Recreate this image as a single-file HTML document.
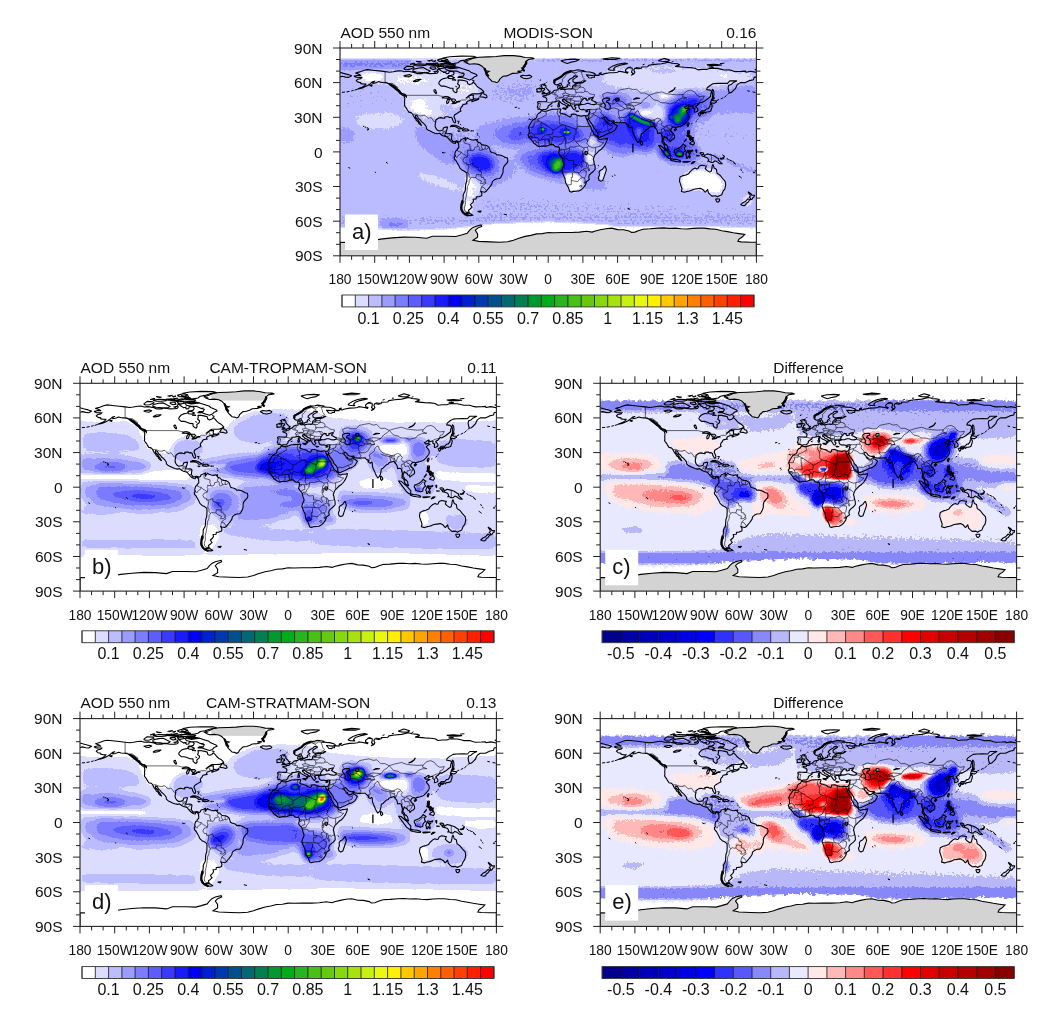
<!DOCTYPE html>
<html><head><meta charset="utf-8"><title>AOD 550 nm SON comparison</title>
<style>html,body{margin:0;padding:0;background:#fff}svg{display:block;font-family:"Liberation Sans",Arial,Helvetica,sans-serif;fill:#111}</style>
</head><body>
<svg width="1053" height="1013" viewBox="0 0 1053 1013">
<defs><clipPath id="clip"><rect x="0" y="0" width="416.4" height="207.8"/></clipPath><filter id="cmA" filterUnits="userSpaceOnUse" x="0" y="0" width="416.4" height="207.8" color-interpolation-filters="sRGB"><feTurbulence type="fractalNoise" baseFrequency="0.4" numOctaves="2" seed="3" result="n"/><feColorMatrix in="n" type="matrix" values="0.03 0 0 0 0.485  0.03 0 0 0 0.485  0.03 0 0 0 0.485  0 0 0 0 1" result="n2"/><feComposite in="SourceGraphic" in2="n2" operator="arithmetic" k1="0" k2="1" k3="1" k4="-0.5" result="m"/><feComponentTransfer in="m"><feFuncR type="discrete" tableValues="1.000 0.863 0.737 0.612 0.486 0.361 0.227 0.102 0.000 0.000 0.000 0.000 0.000 0.000 0.000 0.000 0.157 0.282 0.408 0.533 0.659 0.784 0.910 1.000 1.000 1.000 1.000 1.000 1.000 1.000 1.000"/><feFuncG type="discrete" tableValues="1.000 0.863 0.737 0.612 0.486 0.361 0.227 0.102 0.000 0.125 0.220 0.314 0.408 0.502 0.596 0.675 0.706 0.753 0.784 0.847 0.878 0.941 0.973 0.941 0.784 0.643 0.502 0.376 0.251 0.125 0.000"/><feFuncB type="discrete" tableValues="1.000 1.000 1.000 1.000 1.000 1.000 1.000 1.000 0.957 0.816 0.690 0.565 0.439 0.314 0.188 0.094 0.110 0.094 0.063 0.063 0.063 0.063 0.063 0.000 0.000 0.000 0.000 0.000 0.000 0.000 0.000"/><feFuncA type="linear" slope="0" intercept="1"/></feComponentTransfer></filter><filter id="cmB" filterUnits="userSpaceOnUse" x="0" y="0" width="416.4" height="207.8" color-interpolation-filters="sRGB"><feComponentTransfer in="SourceGraphic"><feFuncR type="discrete" tableValues="1.000 0.863 0.737 0.612 0.486 0.361 0.227 0.102 0.000 0.000 0.000 0.000 0.000 0.000 0.000 0.000 0.157 0.282 0.408 0.533 0.659 0.784 0.910 1.000 1.000 1.000 1.000 1.000 1.000 1.000 1.000"/><feFuncG type="discrete" tableValues="1.000 0.863 0.737 0.612 0.486 0.361 0.227 0.102 0.000 0.125 0.220 0.314 0.408 0.502 0.596 0.675 0.706 0.753 0.784 0.847 0.878 0.941 0.973 0.941 0.784 0.643 0.502 0.376 0.251 0.125 0.000"/><feFuncB type="discrete" tableValues="1.000 1.000 1.000 1.000 1.000 1.000 1.000 1.000 0.957 0.816 0.690 0.565 0.439 0.314 0.188 0.094 0.110 0.094 0.063 0.063 0.063 0.063 0.063 0.000 0.000 0.000 0.000 0.000 0.000 0.000 0.000"/><feFuncA type="linear" slope="0" intercept="1"/></feComponentTransfer></filter><filter id="cmC" filterUnits="userSpaceOnUse" x="0" y="0" width="416.4" height="207.8" color-interpolation-filters="sRGB"><feTurbulence type="fractalNoise" baseFrequency="0.4" numOctaves="2" seed="7" result="n"/><feColorMatrix in="n" type="matrix" values="0.05 0 0 0 0.475  0.05 0 0 0 0.475  0.05 0 0 0 0.475  0 0 0 0 1" result="n2"/><feComposite in="SourceGraphic" in2="n2" operator="arithmetic" k1="0" k2="1" k3="1" k4="-0.5" result="m"/><feComponentTransfer in="m"><feFuncR type="discrete" tableValues="0.000 0.000 0.000 0.000 0.000 0.000 0.188 0.345 0.533 0.722 0.910 1.000 1.000 1.000 1.000 1.000 1.000 0.878 0.784 0.706 0.627 0.533"/><feFuncG type="discrete" tableValues="0.000 0.000 0.000 0.000 0.000 0.000 0.188 0.345 0.533 0.722 0.910 0.910 0.722 0.533 0.345 0.188 0.000 0.000 0.000 0.000 0.000 0.000"/><feFuncB type="discrete" tableValues="0.549 0.643 0.722 0.800 0.894 1.000 1.000 0.980 0.973 0.973 1.000 0.910 0.722 0.533 0.345 0.188 0.000 0.000 0.000 0.000 0.000 0.000"/><feFuncA type="linear" slope="0" intercept="1"/></feComponentTransfer></filter><filter id="cmD" filterUnits="userSpaceOnUse" x="0" y="0" width="416.4" height="207.8" color-interpolation-filters="sRGB"><feComponentTransfer in="SourceGraphic"><feFuncR type="discrete" tableValues="1.000 0.863 0.737 0.612 0.486 0.361 0.227 0.102 0.000 0.000 0.000 0.000 0.000 0.000 0.000 0.000 0.157 0.282 0.408 0.533 0.659 0.784 0.910 1.000 1.000 1.000 1.000 1.000 1.000 1.000 1.000"/><feFuncG type="discrete" tableValues="1.000 0.863 0.737 0.612 0.486 0.361 0.227 0.102 0.000 0.125 0.220 0.314 0.408 0.502 0.596 0.675 0.706 0.753 0.784 0.847 0.878 0.941 0.973 0.941 0.784 0.643 0.502 0.376 0.251 0.125 0.000"/><feFuncB type="discrete" tableValues="1.000 1.000 1.000 1.000 1.000 1.000 1.000 1.000 0.957 0.816 0.690 0.565 0.439 0.314 0.188 0.094 0.110 0.094 0.063 0.063 0.063 0.063 0.063 0.000 0.000 0.000 0.000 0.000 0.000 0.000 0.000"/><feFuncA type="linear" slope="0" intercept="1"/></feComponentTransfer></filter><filter id="cmE" filterUnits="userSpaceOnUse" x="0" y="0" width="416.4" height="207.8" color-interpolation-filters="sRGB"><feTurbulence type="fractalNoise" baseFrequency="0.4" numOctaves="2" seed="11" result="n"/><feColorMatrix in="n" type="matrix" values="0.05 0 0 0 0.475  0.05 0 0 0 0.475  0.05 0 0 0 0.475  0 0 0 0 1" result="n2"/><feComposite in="SourceGraphic" in2="n2" operator="arithmetic" k1="0" k2="1" k3="1" k4="-0.5" result="m"/><feComponentTransfer in="m"><feFuncR type="discrete" tableValues="0.000 0.000 0.000 0.000 0.000 0.000 0.188 0.345 0.533 0.722 0.910 1.000 1.000 1.000 1.000 1.000 1.000 0.878 0.784 0.706 0.627 0.533"/><feFuncG type="discrete" tableValues="0.000 0.000 0.000 0.000 0.000 0.000 0.188 0.345 0.533 0.722 0.910 0.910 0.722 0.533 0.345 0.188 0.000 0.000 0.000 0.000 0.000 0.000"/><feFuncB type="discrete" tableValues="0.549 0.643 0.722 0.800 0.894 1.000 1.000 0.980 0.973 0.973 1.000 0.910 0.722 0.533 0.345 0.188 0.000 0.000 0.000 0.000 0.000 0.000"/><feFuncA type="linear" slope="0" intercept="1"/></feComponentTransfer></filter><filter id="b0_5" filterUnits="userSpaceOnUse" x="-150" y="-150" width="716.4" height="507.8" color-interpolation-filters="sRGB"><feGaussianBlur stdDeviation="0.5"/></filter><filter id="b0_7" filterUnits="userSpaceOnUse" x="-150" y="-150" width="716.4" height="507.8" color-interpolation-filters="sRGB"><feGaussianBlur stdDeviation="0.7"/></filter><filter id="b0_8" filterUnits="userSpaceOnUse" x="-150" y="-150" width="716.4" height="507.8" color-interpolation-filters="sRGB"><feGaussianBlur stdDeviation="0.8"/></filter><filter id="b0_9" filterUnits="userSpaceOnUse" x="-150" y="-150" width="716.4" height="507.8" color-interpolation-filters="sRGB"><feGaussianBlur stdDeviation="0.9"/></filter><filter id="b1_0" filterUnits="userSpaceOnUse" x="-150" y="-150" width="716.4" height="507.8" color-interpolation-filters="sRGB"><feGaussianBlur stdDeviation="1"/></filter><filter id="b1_2" filterUnits="userSpaceOnUse" x="-150" y="-150" width="716.4" height="507.8" color-interpolation-filters="sRGB"><feGaussianBlur stdDeviation="1.2"/></filter><filter id="b1_3" filterUnits="userSpaceOnUse" x="-150" y="-150" width="716.4" height="507.8" color-interpolation-filters="sRGB"><feGaussianBlur stdDeviation="1.3"/></filter><filter id="b1_4" filterUnits="userSpaceOnUse" x="-150" y="-150" width="716.4" height="507.8" color-interpolation-filters="sRGB"><feGaussianBlur stdDeviation="1.4"/></filter><filter id="b1_5" filterUnits="userSpaceOnUse" x="-150" y="-150" width="716.4" height="507.8" color-interpolation-filters="sRGB"><feGaussianBlur stdDeviation="1.5"/></filter><filter id="b1_6" filterUnits="userSpaceOnUse" x="-150" y="-150" width="716.4" height="507.8" color-interpolation-filters="sRGB"><feGaussianBlur stdDeviation="1.6"/></filter><filter id="b1_8" filterUnits="userSpaceOnUse" x="-150" y="-150" width="716.4" height="507.8" color-interpolation-filters="sRGB"><feGaussianBlur stdDeviation="1.8"/></filter><filter id="b2_0" filterUnits="userSpaceOnUse" x="-150" y="-150" width="716.4" height="507.8" color-interpolation-filters="sRGB"><feGaussianBlur stdDeviation="2"/></filter><filter id="b2_2" filterUnits="userSpaceOnUse" x="-150" y="-150" width="716.4" height="507.8" color-interpolation-filters="sRGB"><feGaussianBlur stdDeviation="2.2"/></filter><filter id="b2_3" filterUnits="userSpaceOnUse" x="-150" y="-150" width="716.4" height="507.8" color-interpolation-filters="sRGB"><feGaussianBlur stdDeviation="2.3"/></filter><filter id="b2_5" filterUnits="userSpaceOnUse" x="-150" y="-150" width="716.4" height="507.8" color-interpolation-filters="sRGB"><feGaussianBlur stdDeviation="2.5"/></filter><filter id="b2_8" filterUnits="userSpaceOnUse" x="-150" y="-150" width="716.4" height="507.8" color-interpolation-filters="sRGB"><feGaussianBlur stdDeviation="2.8"/></filter><filter id="b3_0" filterUnits="userSpaceOnUse" x="-150" y="-150" width="716.4" height="507.8" color-interpolation-filters="sRGB"><feGaussianBlur stdDeviation="3"/></filter><filter id="b3_5" filterUnits="userSpaceOnUse" x="-150" y="-150" width="716.4" height="507.8" color-interpolation-filters="sRGB"><feGaussianBlur stdDeviation="3.5"/></filter><filter id="b4_0" filterUnits="userSpaceOnUse" x="-150" y="-150" width="716.4" height="507.8" color-interpolation-filters="sRGB"><feGaussianBlur stdDeviation="4"/></filter><filter id="rough" filterUnits="userSpaceOnUse" x="-20" y="-20" width="456.4" height="247.8"><feTurbulence type="fractalNoise" baseFrequency="0.25" numOctaves="2" seed="5" result="t"/><feDisplacementMap in="SourceGraphic" in2="t" scale="7" xChannelSelector="R" yChannelSelector="G"/></filter><path id="coast" d="M13.9 28.2 18.5 27.1 20.8 27.5 19.1 26.3 15.6 25.1 19.7 23.9 24.3 22.2 27.2 21.6 32.4 22.2 39.3 22.9 45.1 23.6 49.7 24.2 53.2 23.7 57.8 22.9 61.3 22.7 64.2 23.7 68.2 23.3 74 24.4 76.9 25.6 82.1 25.6 83.3 24.8 86.7 25.2 90.2 25.6 94.8 25.5 97.2 25.1 98.3 23.7 97.2 21.9 98.9 20.8 100.6 22.5 102.9 23.9 105.3 24.2 106.4 25.6 108.7 25.4 109.3 23.4 112.8 23.4 114.2 24.8 113.4 26.8 111 27.4 108.7 27.5 108.7 29.4 106.4 30 103.5 30.6 101.2 31.7 99.5 33.5 98.7 35.2 99.1 36.1 101.2 38.1 104.1 38.1 106.4 38.7 109.9 40.1 113 40.3 113.1 42.7 114.5 44.1 116 44.8 117.1 43.6 116.8 41.3 119.1 39.5 119.6 37.5 117.6 36 118.3 34.1 118 32 121.4 32.1 124.9 32.8 127.2 33.5 127.8 35.8 129.5 36.6 131.9 35.8 133.2 34.2 135.3 36 136.7 37.9 138.8 39.8 141.1 41 142.3 42.1 143.7 43.5 142.3 44.6 139.4 45.8 136.5 45.9 131.9 45.9 129.5 47.3 127.2 49.1 126.1 49.9 128.4 48.5 130.7 47.3 133.6 47.3 133.2 48.7 133.4 50.6 135.9 51.1 137.6 50.9 138.8 49.8 138.8 51 136.5 52.2 133.8 52.9 131.9 53.7 131.9 52.5 133.6 51.4 130.7 52 129 52.8 127.2 53.5 126.4 55.1 127.2 55.8 125.7 56 123.2 56.6 122.6 57.1 122.3 58.3 121.2 59.2 120.3 61.2 120.5 62.3 120.9 63.1 119.5 63.8 118 64.8 116.5 65.7 114.5 67 114 68.7 115 71.2 115.7 73 115.3 74.7 114.3 74.8 113.6 73.7 112.5 71.8 112.4 70.4 111 69.3 109.5 69.6 108.1 68.8 106.4 68.8 104.7 69 104.9 70.3 102.9 70.1 100.6 69.6 98.7 70 97.2 71 95.7 72.2 95.8 73.9 95.2 76.2 95.1 78.2 95.7 79.9 96.9 81.7 98.7 82.9 101.2 82.5 102.9 82 103.6 79.7 105.8 79.1 107.6 79.1 107 81 106.6 82.8 106.1 84.3 105.5 85.5 107.6 85.7 109.3 85.5 111 85.7 112 86.6 111.6 88.9 111.4 91.2 112.2 92.4 113.4 93.5 115.1 93.5 116.2 92.9 118 93.3 118.8 94.1 M118.6 95.5 117.6 94.4 116.2 93.7 115.3 94.4 115.4 95.4 113.9 95.2 112.4 94.4 111.4 93.7 109.9 92.4 109 91.2 107 88.9 105.3 88.4 103.5 87.9 101.6 87 99.5 85.3 97.2 85.8 94.8 85.2 92.5 84.3 90.2 83.1 88.3 82.3 86.4 80.6 86.3 78.7 85 76.9 83.3 75 81.7 73.9 80.4 72 78.4 70.4 77.5 68.1 75.5 67.3 75.5 69 77.1 70.8 78.4 72.5 79.6 74.2 80.7 76 81.5 77.3 80.6 76.9 78.7 75.3 78.2 73.7 76.3 72.5 75.8 71 74.4 69.5 73.4 67.8 72.6 66.1 71.1 64.6 68.8 64.1 67.3 61.8 66.5 60.3 65 58.3 64.4 57.3 64.7 55.4 64.5 53.7 64.8 50.6 64 48 65.9 48.3 66.5 49.3 66.3 47.6 64.8 46.2 62.5 45.6 60.5 44.4 59.8 42.7 57.5 41 56.1 39.3 53.8 37.5 51.5 36.4 49.2 36 46.6 34.9 44 34.6 41.1 34.4 38.7 33.6 36.7 34.4 35.3 34.9 32.7 35.4 33.2 33.8 34.7 33.2 32.6 33.7 31 35.1 29.7 36.2 27.8 37.5 25.4 38.6 23.1 39.7 20.8 40.4 17.9 40.9 19.7 40.1 22 39.3 24.5 37.8 26 36.1 23.1 36 20.8 35.6 20.8 34.6 17.9 34.1 16.2 32.6 17.7 31.2 20.8 30.6 22 29.4 19.7 29.4 16.2 29.3 13.9 28.2 M118.8 94.1 120.3 93.2 121.1 91.5 122.6 91 124.3 90.3 125.5 89.6 125.3 91.2 125.5 92.9 126.1 91.4 127.2 90.6 127.2 89.8 129 90.9 131.3 91.7 133.6 92.1 135.9 91.5 136.7 92.4 137.9 94.1 140 94.7 141.7 96.6 144 97.1 145.7 97.2 147.5 98.1 148.9 99.1 149.8 101.6 150.4 103.6 152.1 104.5 153.3 104.7 155.6 105.6 156.7 107 158.5 106.8 160.8 107.2 163.1 108.2 165.2 109.4 167.4 110 167.9 112.6 167.4 114.5 165.4 116.6 163.7 118.9 163.1 121.2 163.1 124.1 162.2 126.6 160.8 129.3 159.6 130.5 156.7 130.7 154.4 131.8 152.3 133.6 152 135.6 150.9 137.4 149.2 139.7 147.7 141.4 146.3 143.2 144.6 144.2 142.3 143.7 140.7 143.2 141.9 145.5 141.6 147.8 138.8 148.8 136.3 148.9 136.1 150.9 133 151.2 133.6 153 132.7 154.7 130.4 156.7 131.3 158.2 132.1 159.1 130.1 161 128.4 162.2 129.1 164.3 126.7 164.7 124.3 165.7 122.6 164.5 121.1 162.2 120.9 159.3 122 157 123.2 154.7 122.8 152.2 123.2 149.5 123.2 146.8 124.1 144.9 125.3 142.6 125.5 139.1 125.7 136.2 126.7 133.3 126.9 130.5 127 127.6 126.8 125.1 124.9 123.5 122 122.1 119.9 120.1 118.9 117.8 117.6 115.4 116.2 112.9 114.5 111.1 114.2 109.1 115.3 107.8 114.7 106.6 115.1 104.8 115.7 103 116.9 102.3 117.4 101 118.8 99.5 118.7 97.6 118.6 95.5 M128.9 164.7 131.3 166.2 132.8 167.2 130.7 167.6 127.8 167.4 125.5 166.6 126.7 165.7 128.9 164.7 M180.1 28.3 182.8 27.2 186.2 27.7 189.7 27.1 191.8 28.5 190.8 29.7 186.8 30.7 183.3 30.2 182.2 29.4 180.1 28.3 M110 78.6 112.2 77.3 115.1 77.2 118 78.2 120.9 79.9 122.4 80.6 118.6 80.9 118 80 115.7 78.8 113.4 78.3 110 78.6 M122.1 82.5 123.8 80.9 127.2 81 129.1 82.4 126.7 82.9 124.9 83 122.1 82.5 M117.6 82.7 119.9 83 118.9 83.4 117.6 82.7 M130.5 82.7 132.2 82.8 131.3 83.1 130.5 82.7 M139.6 48.8 141.7 45.6 143.7 44.4 144 46.2 146.3 47 147.1 49.1 145.7 49.9 143.4 49.1 139.6 48.8 M59.8 45.3 63 45.9 65.4 47.9 63 47.6 59.8 45.3 M115.7 18.8 120.3 19.9 124.9 21.4 129 22.7 130.7 24.2 136.5 26.6 137.1 27.7 134.2 28.9 132.4 30.8 129.5 32 125.5 30.6 122 29.4 118 29.4 119.1 28.3 123.2 28.3 124.3 26 120.3 24.8 116.8 23.1 111 23.1 106.4 21.9 104.7 19.6 109.9 18.8 115.7 18.8 M72.9 21.4 78.7 20 83.3 19.6 86.7 21.4 90.2 23.1 87.9 24.6 82.1 24.5 76.3 24 72.9 23.1 72.9 21.4 M63.6 20.8 67.1 18.1 72.9 18.5 74 19.6 69.4 21.4 65.4 21.7 63.6 20.8 M104.1 15.6 108.7 13.9 107.6 11.8 102.9 10 109.9 8.7 121.4 8.1 133 8.3 136.5 9.2 129.5 10.6 124.9 12.1 120.3 12.9 118 14.7 113.4 15.6 104.1 15.6 M97.2 16.7 101.8 15.6 109.9 16.5 115.7 16.7 114.5 17.8 106.4 17.9 101.8 17.7 97.2 16.7 M72.9 17 78.7 15.9 85.6 16.2 86.2 17.3 81 17.9 76.3 17.8 72.9 17 M97.7 18.5 103.5 18.5 104.1 19.9 100.1 20.8 97.7 19.6 97.7 18.5 M90.2 19 94.8 18.8 96 20.8 93.1 21.4 90.2 20.2 90.2 19 M107.6 28.3 111 27.9 114.5 29.7 112.2 30.8 108.7 30.4 107.6 28.3 M97.2 12.1 102.9 10.4 107.6 11.5 104.1 13.3 99.5 13.5 97.2 12.1 M201.4 62.6 203.6 63.3 205.9 63.3 208.2 62.6 211.7 61.4 215.1 61.3 217.5 61.2 219.8 60.8 220.9 61.3 220.3 62.9 219.8 64.4 220.9 65.2 223.2 65.9 225.9 66.6 227.9 68.1 230.2 68.9 231.3 68.1 231.3 66.4 234.8 66.1 237.1 67.3 240 67.9 241.7 68.1 244.1 67.5 245.6 67.9 245.8 69.3 246.9 71.8 248.1 74.5 249.3 76.8 251 79.1 251.3 81.4 252.7 83.1 253.9 86 255.6 87.2 257.9 89.2 258.3 90.6 260.2 91.8 262.6 91 264.9 90.9 267.4 90.3 267 92.4 265.5 95.8 263.7 98.7 261.4 101.2 259.1 102.7 256.8 105.1 255 106.8 253.9 109.3 253.3 111.4 253.9 113.1 254.2 115.4 255 117.8 255.2 121.2 253.3 123.5 251 125.3 249.3 127 248.7 129.3 249.3 131.6 246.4 133.7 246.1 135.1 245.2 137.4 243.5 139.7 241.2 141.8 238.9 142.9 236 143.2 233.6 143.4 231.3 144.1 229.6 143.4 229 141.4 228.2 139.1 226.7 136.8 225.5 134.5 225 130.5 223.8 128.1 222.7 125.3 221.8 122.9 222.7 120.1 223.8 117.8 224 116 223.2 114.1 222.3 110.8 221.8 109.1 219.8 107.1 218.6 105.1 219.1 103.3 219.4 101.6 219.3 99.5 218 98.7 216.3 98.9 214.6 98.1 213.4 96.6 211.1 96.6 209.4 97 207 97.9 205.3 98.1 203 97.9 199.5 98.8 197.8 98.1 195.5 96.4 193.7 95.2 192.8 93.5 191.4 91.8 190.3 90.6 188.8 89.5 188.8 88.3 188 86.9 189.1 85.4 189.3 83.1 189.3 81.4 188.5 79.7 189.1 77.9 189.9 76.2 191.1 74.5 192.6 72.2 194.3 71.2 196.1 70.1 196.9 68.7 197.1 67 198.4 65.5 200.1 64.6 201.4 62.6 M265.2 117.8 266.4 121.8 265.5 124.7 264.3 128.1 262.8 132.5 260.8 133.3 259.1 132.5 258.3 129.9 259.4 127 259.1 124.1 260.2 122.4 262.6 121.2 263.7 119.5 265.2 117.8 M201.7 62.3 200.8 61.4 199.6 61 197.9 61.2 198 59.5 197.2 59.1 197.9 57.5 198.1 55.4 197.4 54.3 198.9 53.5 201.8 53.7 204.2 53.8 206.1 53.8 206.7 52.5 206.8 50.8 205.7 49.6 203 48.7 202.8 48 204.7 47.6 206.3 47.7 206.1 46.5 206.9 46.9 208.4 46.8 209.9 46.1 210.1 45.1 211.7 44.7 212.8 43.9 213.8 42.7 215.1 42.3 216.3 42 218 41.9 218.3 40.6 217.7 39.8 217.7 38.1 220.3 37.3 220.1 38.7 219.8 39.8 219.5 40.6 220.9 41.6 222.7 41.2 224.4 41.6 227.3 41 229.6 40.8 231.1 41.1 232.5 40.2 232.5 38.3 233.6 37.4 235.4 38.1 236.3 37.2 235.4 36 235.4 35.6 238.3 35.2 240.6 35.1 242.9 34.7 241.2 34.1 238.3 34.2 234.8 34.7 233.1 33.8 232.8 31.7 234.2 30.6 237.1 28.9 237.5 28.3 234.2 27.9 233.1 29.4 230.2 30.9 228.2 32.9 228.1 34.1 229.9 34.9 229 35.8 227.3 36.9 227.1 38.7 225 39.3 224.6 39.9 223.2 39.9 222.9 39 221.8 37.3 221.2 35.8 220.3 35.2 218.6 36.4 216.3 36.9 214.6 36 214 34.1 214 32.3 216.3 31.2 218.6 30.4 220.3 29.4 222.1 28.3 223.2 26.8 225 25.4 226.7 24.5 229 23.6 231.3 23.1 234.8 22.5 237.9 21.8 240.6 22.2 244.1 22.7 242.9 23.4 246.4 23.8 249.8 24 254.5 25.4 255.6 26.8 252.7 27.5 248.7 27.1 246.4 26.9 248.1 28.9 248.7 29.7 251.6 30 252.2 29.2 254.5 29.2 254.5 27.7 256.8 27.1 259.1 27.5 259.3 25.4 261.4 24.8 260.2 26.2 262 26.8 263.7 25.9 269.5 24.8 274.1 24.7 277.6 24.2 278.8 23.3 282.8 23.9 285.7 24.5 287.4 25.2 288 24.2 285.7 23.4 285.5 21.9 287.4 20.2 289.2 19.6 292.1 20 292.3 21.9 291.5 24.2 293.2 25.4 291.5 27.1 293.8 26 294.9 24.2 293.8 21.9 294.9 20.2 298.4 20.8 301.3 20.2 301.3 19 307.7 18.7 308.8 17.3 314.6 16.4 321.6 15.8 328.5 14.2 332 15.2 337.7 15.8 339.5 16.7 335.4 18.5 338.9 18.8 344.7 19.3 350.5 19.6 355.1 20.2 358 21.9 362 21.4 366.7 21.4 370.1 20.2 377.1 20.4 381.7 21.4 384 22 389.8 21.9 393.3 23.1 395.6 23.6 401.4 23.4 405.4 23.1 406 24.2 410.6 23.3 416.4 24.4 M0 24.4 3.5 25.4 8.1 26.6 11.6 27.7 8.7 29.4 5.8 29.1 2.3 28.3 0 28.9 M416.4 28.9 414.1 29.4 413.5 31.7 409.5 32.6 405.4 34.6 400.2 34.6 397.3 36.6 396.2 38.7 395.6 40.4 393.3 42.7 391.5 44.4 389.4 45 388.6 42.7 388.1 39.8 388.6 37.5 391 36.6 393.3 34.6 396.7 32.9 393.3 32.9 389.8 32.9 387.5 35.4 382.6 35.2 377.1 35.4 373 35.8 370.1 37.5 367.2 39.8 366.7 41.6 370.1 42.1 371.6 43.5 370.7 46.2 370.5 48.5 368.4 50.2 365.5 52.5 362 54.5 360.3 54.3 359.4 55.1 358.2 56.6 356.3 57.7 355.7 58.3 356.8 59.5 357.9 61.2 357.8 62.9 356.3 63.7 354.5 64.2 354.3 62.9 354.7 61.2 352.8 60 353.1 58.3 352 57.7 349.3 58.6 348.4 58.9 349.3 57.1 348.2 56.8 345.8 58.6 344.3 59.1 345.6 60.6 347.9 60.3 349.9 61 347.6 62.1 346.2 63.5 347.6 65.2 349.1 67.3 349.1 68.3 349.3 69.5 348.7 71.2 347 73.3 345.8 74.8 344.1 76.4 342.4 77.5 340.3 78.2 337.7 78.8 336 79.3 335.4 80.5 334.9 79.1 333.1 79 331.7 80 330.6 82 331.4 83.7 333.4 85.4 334.5 87.7 334.6 90 333.1 91.4 331.7 92 329.9 93.9 329.4 92.1 327.9 91.7 326.8 90 325 89.2 324.4 88.3 323.9 89.5 323.3 91.2 322.9 93.2 324.2 94.3 324.7 95.8 326.2 96.7 327.6 98.4 327.9 100.4 328.7 102.3 327.8 102.2 325.6 100.7 324.4 98.7 324.2 97 323.1 95.2 321.9 94.4 322.1 92.4 322.4 90 321.6 87.7 321.2 85.4 319.2 84.9 317.5 85.4 317.3 83.1 316.3 81 315 79.7 314 77.9 312.3 78.5 310.6 78.8 308.8 79.7 308.3 80.8 306.5 81.4 304.8 83.1 303 84.9 301.3 85.7 301 88.3 300.5 90.6 299.8 92.4 298.8 93.6 297.8 94.5 296.7 92.9 295.5 90.6 294.6 88.3 293.4 85.7 292.6 83.7 292.4 82 292.3 79.7 291.8 78.7 290.3 79.9 289.2 79.4 288 78.2 289.2 77.5 287.4 76.8 286 75.6 285.1 74.6 282.2 74.7 279.3 74.8 276.4 74.6 274.5 74.2 273.9 72.7 271.8 73.1 269.5 72.7 267.8 71.7 266.8 70.1 265.5 69 264.5 69.3 263.7 69.8 264.5 71.6 266 73.1 266.3 74.5 267.2 75 267.5 73.9 268 75.6 269.5 76 271.2 75.8 273 74.1 273.6 73.5 273.6 75.3 275.9 76.7 277.4 77.9 276.1 80.2 275.1 82 273.6 83.1 271.8 84.3 268.9 85.2 266 86.6 263.1 88 260.2 89.1 258.5 89.2 257.7 87.2 257.6 84.9 256.2 82.5 253.9 80 253.3 78.2 251.6 75.6 249.8 73.3 248.7 71.3 248.6 69.8 247.9 71.7 246.4 70.4 245.8 69.3 M245.6 67.9 247.8 67.8 248.6 66.4 249.3 64.8 249.6 62.9 250.1 61.5 248.1 61.5 245.8 62.2 243.6 61.4 241.7 61.8 240 61.2 238.9 59.5 238.9 58.3 238.5 57.5 240 57.1 241.7 56.5 240.8 56 238.5 56.9 236 56.8 235.4 57.5 234.6 57.1 234.6 58.5 236 59.8 235.4 60.3 234.8 61.8 233.6 61.4 232.8 60.3 232.5 59.7 231.3 58.1 230.6 57.1 230.8 55.6 229.6 54.8 227.3 53.7 225.5 52.5 224.7 51.6 223.9 52 224 51.1 222.4 51.6 222.5 52.9 223.9 53.7 224.6 54.8 226.7 55.6 229.6 57.5 229.4 58 227.9 57.3 227.3 58.1 228 58.9 227.3 59.7 226.4 60 226.7 58.9 226.1 57.7 224.7 56.8 222.7 56 220.9 54.8 220.1 53.7 218.6 52.8 216.9 53.3 214.3 53.9 211.9 54 211.9 55.4 210.7 56.2 208.5 57.7 207.9 58.5 208.2 59.2 207.4 60.3 205.9 61.4 203.1 61.5 201.7 62.3 M241.7 56.5 244.6 56.3 246.9 55.4 248.7 55.4 251 56.3 253.9 56.6 256.2 56 256.2 54.6 253.9 53.3 252.2 52.5 251.3 51.6 252.7 50.8 253.3 49.4 251.6 49.6 248.7 50.4 249.3 51.6 246.9 52.5 245.8 51.4 246.4 50.6 244.1 50.1 242.6 51.6 241.3 53.3 240.5 54.6 240.8 56 241.7 56.5 M262.6 51.4 264.9 50.2 267.2 49.9 269.5 50.2 269.5 52 267.2 52.5 266.4 54.3 268.3 54.8 269.3 56 270.4 57.7 270.1 60.8 267.8 61.5 265.5 60.7 264.8 59.5 265.5 57.4 264.3 55.4 263.1 54.3 262.6 52.5 262.6 51.4 M275.9 50.2 278.8 50.2 278.8 52.5 276.4 53.5 275.6 52 275.9 50.2 M201.6 46.2 204.2 45.8 207 45.4 209.8 44.8 209 44.4 210.2 43.1 208.5 42.7 208 41.6 206.5 40.4 205.9 39.3 205.9 37.4 203.6 37.3 204.7 36.2 202.4 36.2 201.5 37.5 201.8 39.3 202.6 40.4 204.4 40.5 204.7 41.8 203 42.4 203.3 43.3 202.2 44.1 204.7 44.6 203 45 201.6 46.2 M196.6 44.1 201 43.6 201.3 42.1 201.8 40.6 199.5 40.1 196.6 41.3 197.2 42.7 196.6 44.1 M359.6 64.6 361.5 62.9 364.9 62.8 366.4 61 368.4 60.6 369.9 58.3 370.1 56.8 371.6 56.1 372.2 57.7 371.9 59.7 371.1 61.8 370.9 62.9 369.9 63.5 368.4 63.8 366.7 64 366.1 64.3 365.3 65.2 364.6 64.1 362.6 64.3 361.2 64.6 359.6 64.6 M370.5 56 370.4 54.3 372 51.5 373.6 52.8 376.3 52.9 376.5 54 374.2 55.4 371.3 54.8 370.5 56 M359.6 64.8 360.6 65.5 360.2 67.5 359.3 68 358.6 66.4 358.2 65.5 359.6 64.8 M361.5 64.6 363.8 64.4 363.4 65.5 362 66 361.2 65.5 361.5 64.6 M372.4 41.2 373.6 42.7 374 46.2 373.6 48.5 374.2 50.6 372.4 50.8 372.4 48.5 372.4 45.6 372.1 43.3 372.4 41.2 M348.7 74.7 349.2 75.6 348 78.5 347.1 77.3 347.9 75.4 348.7 74.7 M333.9 81.7 336 80.8 336.6 81.4 334.9 82.9 333.9 81.7 M300.7 92.6 302.2 94.1 302.8 95.8 301.5 97 300.6 96 300.5 94.1 300.7 92.6 M318.4 97.4 321 97.9 323.9 100.4 327.3 103.3 329.1 105.6 330.8 107.4 330.6 110.6 329.1 110.5 326.5 108.5 324.4 105.6 322.7 103.3 321 101 318.4 97.4 M329.9 111.8 331.7 110.8 333.7 111.4 336.4 111.4 338.6 112 340.6 112.9 340.5 113.9 336.6 113.5 333.1 112.9 329.9 111.8 M334.3 102.2 335 101.6 336.9 101 338.9 100.2 341.6 98.1 343.3 95.8 344.3 97 346.1 97.9 344.7 99.1 344.5 101 345.6 102.7 344.1 103.9 343 105.6 342.7 107.9 340.8 108.5 337.7 107.7 335.7 107.1 335.4 105.4 334.3 103.9 334.3 102.2 M347 102.7 348.2 102.5 350.5 102.9 352.8 102.1 352.2 103.3 349.3 103.4 347.6 103.9 348.7 105.1 350.8 104.8 349.3 106.2 350.2 108.5 349.9 110.2 348.2 107.9 347.6 110.2 346.4 110.2 346.4 107.9 345.7 106.8 346.8 104.5 347 102.7 M359.7 104.8 362 104.5 363.4 105.1 364.3 107.7 367.2 105.9 370.7 106.8 374.2 107.9 376.8 109.7 378.8 110.8 378.2 111.8 380 113.7 382.3 115.8 379.4 115.6 377.1 113.7 374.8 112.8 373 114.5 370.7 114.3 369 113.1 367.8 113.5 368.7 112 367.6 110 364.9 109 362.6 108.3 361.7 107.1 363 106.6 360.9 106.2 359.7 104.8 M347.6 82.5 349.5 82.7 349.3 85.1 348.7 87.4 351 88 351.6 89.4 349.9 88.3 347.9 88 347.3 85.4 347.6 82.5 M349.3 95.8 351 94.1 353.4 92.6 354.5 95.2 353.4 97 351.6 96.4 349.3 95.8 M349.3 90.3 351 91.2 352.8 91 353.4 89.5 352.2 89.5 350.5 92.4 349.9 91.8 349.3 90.3 M343.8 94.2 346.4 90.9 345.8 92.4 343.8 94.2 M351 115.8 352.8 113.8 355.1 113.6 353.4 115 351 115.8 M342.4 113.7 345.8 113.5 350.2 113.5 347 114.2 343.5 114.3 342.4 113.7 M355.7 101.6 356.8 102.2 356.6 104.5 355.9 103.3 355.7 101.6 M356.3 107.4 359.5 107.7 357.4 107.9 356.3 107.4 M380 110.4 382.3 110.2 384.2 108.7 383.4 110.6 381.1 111.2 380 110.4 M373 116.3 374.2 120.1 376.3 121.2 377.1 125.3 380 127.2 382.6 130.5 385.2 133.3 385.7 136.8 384.9 140.8 383.1 143.2 381.7 146.8 379.4 147.7 377.4 148.9 375.7 147.8 371.9 148.1 369.9 146.4 368.4 144.9 367.6 141.5 365.5 144.1 364.7 143.8 363.2 141.8 360.3 140.3 356.8 140.8 353.9 141.2 351.6 142.3 349.3 143 346.4 143.6 344.5 144.3 341.4 143.5 342 140.8 341.2 138.5 340.3 135.6 339.5 133.3 339.7 131 340.1 129.1 343 127.6 345.8 127 348.7 125.8 349.7 124.1 351 122.9 352.8 121.2 355.1 120.1 356.8 121 358 120.6 359.1 118.3 361.5 117.2 364.9 117.8 366.4 118 365.3 120.6 366.7 122.1 369.6 124.1 371.1 123.5 371.9 120.6 372.1 118.3 373 116.3 M375.6 150.9 379.6 151 379.6 152.6 378.2 154.2 376.8 153.8 376.1 152.4 375.6 150.9 M408 143.6 409.8 144.9 411.2 146 411.8 147.3 414.5 147.3 413.9 149.2 412.9 149.5 412 151.2 410.6 151.8 410.6 150.3 409.2 149.3 410.3 148 410 146.6 408.3 144.3 408 143.6 M408.1 150.7 409.7 151.8 408.1 154.2 406.2 155.3 405.8 156.8 404 157.7 401.9 157.2 400.8 156.7 402.9 154.7 405.4 153.5 406.6 152.2 408.1 150.7 M220.9 12.7 226.7 11.5 233.6 11.1 239.4 11.5 236 13.3 230.2 14.4 227.3 15.4 224.4 14.4 220.9 12.7 M267.8 21.4 270.1 19.6 273 17.9 277.6 16.2 284.5 15 287.4 15.6 279.9 17.3 275.3 19 273.6 20.8 274.7 22.3 270.7 22.2 267.8 21.4 M318.1 12.7 323.9 10.4 329.6 12.1 327.3 13.6 321.6 13.3 318.1 12.7 M366.7 16.7 373.6 16.2 381.7 17 377.1 17.5 370.1 17.5 366.7 16.7 M262.6 11 271.8 9.8 279.9 10.4 275.3 11.5 266 11.5 262.6 11 M414.7 21.7 416.4 21.4 416.4 22 414.7 21.7 M222.7 60 226.1 59.8 225.8 61.5 222.7 60.5 222.7 60 M217.8 56.6 219.4 56.6 219.3 58.6 218 58.9 217.8 56.6 M218.3 54.7 219.2 54.3 219.1 56 218.3 55.8 218.3 54.7 M235.5 62.9 238.6 63.3 236.5 63.6 235.5 62.9 M245.6 63.5 248.1 62.8 247.3 63.7 245.9 63.8 245.6 63.5 M220.9 39.6 222.7 39.3 222.4 40.4 220.9 40.2 220.9 39.6 M29.5 37.5 32 36.9 31.8 38.1 29.5 37.5 M137.6 163.4 141.1 163.1 140 164.3 137.6 163.4 M136.7 91.5 137.6 91.5 137.4 92.2 136.7 91.5 M101.8 49.9 105.3 48.5 108.1 48.7 110.2 50 107.6 50.2 104.1 50 101.8 49.9 M106.8 55.8 108.4 54.8 109.3 52 109.9 51 107.6 51.4 106.6 53.7 106.8 55.8 M110.5 50.8 114.5 51 115.7 52.3 113.7 54 112.8 53.9 111.6 52.5 110.5 50.8 M111.7 55.8 114.5 54.7 116.8 54.5 115.1 55.5 111.7 55.8 M116 53.9 119.1 53.2 119.9 53.6 118 53.9 116 53.9 M93.7 42.1 95.4 41.8 96.6 45 96 45.6 94.3 43.9 93.7 42.1 M63.6 27.7 69.4 26.6 71.7 27.5 68.8 28.9 65.9 28.5 63.6 27.7 M72.9 33.5 76.3 31.7 81 31.4 78.7 32.9 75.2 33.6 72.9 33.5 M244.9 103.6 247.5 103.7 247.5 105.6 246.4 107 245 106.2 244.9 103.6 M328.5 44.4 330.8 43.3 333.7 41.6 335.2 39.6 334.3 41.3 332 43.3 328.5 44.4 M293.2 51.4 296.1 49.9 299.6 50.2 296.1 50.6 293.2 51.4 M242.9 34.6 245.8 32.9 244.1 32.9 242.9 34.6" fill="none" stroke="#000" stroke-width="1.1" stroke-linejoin="round"/><path id="mald" d="M292.9 95.8 292.9 104.6" fill="none" stroke="#000" stroke-width="1.3"/><path id="thick" d="M49.7 36.1 52 37.8 54.4 39.7 56.7 41.6 58.8 43.2 60.4 45 M122.3 153 121.4 157 121.4 161 122.6 163.9 124.9 166.2 127.8 167.4 M214.3 34.6 214.6 32.3 218 30.5 221.5 28.5 223.8 26.2 226.7 24.5 230.8 23.1 M183.9 22.5 182.8 20.8 183.9 18.5 185.6 16.2 186.2 13.9 M148.1 27.7 146.3 25.4 145.7 23.1 144.6 20.8 M115.7 19.6 111 20.2 106.4 19 M98.3 17.9 92.5 16.7 86.7 16.2 M109.9 15 106.4 13.9 101.8 12.7 M347.3 87.7 348.7 88.3 349.9 89.5 351 90.6 352.6 91.8 M348.2 84.3 348.2 86.6 M371.9 52 373 50.2" fill="none" stroke="#000" stroke-width="2.2" stroke-linecap="round" stroke-linejoin="round"/><path id="thin2" d="M17.3 41.3 15 42 M13.3 42.4 11.6 42.9 M9.3 43.4 6.9 43.8 M4.6 44.1 2.3 44.3 M407.7 42.8 409.5 43.2 M412.9 44 415.2 44.4 M377.1 52.5 378.8 51.6 M381.1 50.8 382.9 49.9 M384.6 49.1 386.3 47.6 M387.8 46.2 388.6 45.5 M355.9 73.7 356.6 73 M357.8 71.3 358.2 71 M351.6 75.7 352 75.6 M27.8 81.9 28.9 81.2 28 80.6 27.8 81.9 M27.1 79.9 27.8 79.9 M25.2 79.1 25.8 79.2 M23.5 78.5 23.9 78.4 M414.1 124.1 414.8 124.7 413.4 124.7 M415.2 122.9 416.2 122.7 M399 128.1 400.8 129.3 401.4 129.8 M400.8 121.2 401.4 122.4 M402.5 124.1 403 124.4 M392.7 113.1 394.4 114.9 M389.8 112 391.5 112.9 M393.8 114.9 395.6 116.1 M386.9 110.2 388.4 111.8 M382.6 106.9 384.6 108.3 M35.2 124.1 35.6 124.4 M8.7 119.6 9.8 120.1 M46.3 114.3 47.4 115.2 M102.4 104.2 102.9 105.1 103.8 104.6 M104.6 104.9 105 104.7 M274.6 127 275.1 127.3 M272.2 128.1 272.7 128.4 M258.3 117.3 258.5 117.8 M272.3 109.2 272.5 109.3 M178.7 60.3 179.2 60.3 M175.2 59.5 176.7 59.2 M188.5 66.1 188.9 66.1 M188.8 71.2 189.5 71 M190 71.6 190.4 71.6 M191.8 71.2 192.2 70.7 M180.1 85.4 180.4 84.7 M180.8 86.6 181.1 86.4 M211.1 58.3 212.1 58 M288 160.5 289.7 161.2 288.6 160.7 M164.2 166.2 166.6 166.8 M137.1 85.1 137.4 85.5 M137.6 86.8 137.8 87.3 M139.3 88.7 139.4 88.8 M133.2 82.8 133.5 82.8 M118.2 75.6 118.8 73.9 M117.6 73.2 119.1 73.3 M120.3 76.2 120.9 76.8 M123.2 79.7 123.8 79.4 M92.5 13.3 96 12.7 93.7 13.9 M87.9 12.7 92.5 12 89.1 13.2 M81 13.9 76.3 13.3 78.7 14.1 81 13.9 M70.6 16.2 74 15 75.2 15.8 70.6 16.2 M93.7 15.6 97.2 14.7 98.3 15.6 93.7 15.6 M87.9 16.2 91.4 15.4 94.8 16.2 91.4 16.7 87.9 16.2 M97.2 23.1 93.7 23.7 94.8 24.5 97.2 23.1 M115.7 32.1 113.4 31.2 112.2 32 115.7 32.1 M116.8 38.9 115.7 38.4 M134.2 32.9 132.4 32.3 133.6 33.5 M119.1 19.6 116.8 20.2 M122 25.2 123.2 24.7 M100.6 16.7 104.1 16.2 M106.4 23.7 103.5 24.5 M288 19.4 290.3 19 M296.1 19.6 299.6 20 M303 16.7 304.2 16.3 M332 13.9 333.1 13.5 M312.3 15 313.5 14.8 M337.7 17.9 338.9 18.1 M380.5 15.5 384 15.2 M369 19 373.6 19.3 371.3 18.7 M226.7 24.2 225.5 25.1 223.8 25.4 M200.1 32.3 200.7 32 M206.5 34.4 206.8 34.1 M204.5 35.8 205 35.7 M200.1 37.5 200.9 36.6 M200.9 38.7 201.3 37.9 M230.2 37.8 229.4 37.1 M227.3 38.9 227.9 37.8 M234 36.6 234.8 36.2 M220.3 40.1 220.7 39.8" fill="none" stroke="#000" stroke-width="1" stroke-linecap="round"/><path id="bord" d="M45.1 23.6 45.1 34.3 47.4 34.6 49.2 35.9 52 35.2 53.8 36.4 56.1 38.3 57.8 39.3 57.5 40.6 M65.9 47.3 98.1 47.3 98.9 47.7 101.8 48.3 104.7 48.5 106.4 48.3 110.5 50.2 111.6 51 112.8 51.6 112.9 54.3 112.2 55.4 114.5 55.2 116.8 54.5 116.8 53.7 119.7 53.1 121.4 52 125.5 52 126.9 50.8 128.2 49.2 129.8 49.6 129.8 51 130.7 52 M72.8 66.4 75.5 66.1 79.8 67.8 83 67.8 83 67.2 85 67.2 87.3 69.7 89.1 70.4 89.9 69.5 91.4 69.8 93.1 72.2 93.7 73.4 95.8 74 M101.6 87 101.8 86.4 102.4 85.4 103.5 85.3 102.9 84 102.9 83.4 105 83.4 105 85.5 105.4 85.5 M105 83.4 106.1 82.5 M104 88.1 104.8 87.3 105 85.5 M104.8 87.3 106.4 87.9 106.8 88.5 M107.2 88.9 108.7 88 110.1 86.8 112 86.6 M109.1 91.1 111.4 91.3 M112.3 94.5 112.7 92.9 M118.8 94.1 118.1 95.6 M124.1 81.2 125.3 82 125.2 83.1 M125.5 89.6 124.3 91.2 123.8 93.3 124.6 95.2 127.2 95.8 130.1 96.7 129.8 99.1 130.7 101.6 130.8 102.5 M130.8 102.5 133 102.7 134.2 101.6 134.8 99.3 137.6 98.7 138 97.9 M138 97.9 137.3 97 138.8 94.1 M138 97.9 138.8 98.7 139.4 99.9 139 101.6 140.2 102.4 142.3 101.7 142.8 101.7 144.6 101 145.2 101.2 147.1 101.2 148.4 99.2 M141.9 97 141.1 99.3 142.3 100.1 142.8 101.7 M145.7 97.2 145.2 98.7 145.2 101.2 M130.8 102.5 127.5 101.9 127.8 103.1 127.2 104.1 127.9 105.4 127.3 108.7 M127.3 108.7 124.9 106.8 123.2 106 121.1 104 M121.1 104 119.1 103.6 116.9 102.3 M121.1 104 120.9 105.6 118.2 107.4 116.8 109.7 115.3 107.8 M127.3 108.7 124 109.9 122.8 112.3 124.3 114.9 126.5 114.9 126.5 116.6 127.8 116.6 M127.8 116.6 128.7 118.3 128.4 121.2 127.8 122.6 127.8 124.1 126.8 125.1 M127.8 124.1 129 126.4 129 128.1 130.5 130.2 M127.8 116.6 129.5 116.6 132.7 115.2 133 117.8 135.3 118.9 138.2 119.8 138.8 122.6 140.8 122.7 141.1 124.1 141.7 124.9 141.1 126.8 M141.1 126.8 136.5 126.4 135.8 129.5 M130.5 130.2 131.9 129.1 133.6 129.5 135.8 129.5 M135.8 129.5 137.6 131.4 141.5 133.1 140.5 135.4 143.4 135.4 145 133.5 M141.1 126.8 141.3 129.4 143.7 129.6 144 131.6 145.4 131.6 145 133.5 M145 133.5 146 135.3 143.7 136.6 141.6 138.8 M141.6 138.8 144 139.6 146.4 142.8 M141.6 138.8 140.9 141.4 140.7 143.2 M130.5 130.2 129.2 132.2 129 135.1 127.5 138.5 127.2 142 126.7 145.5 126.1 148.9 125.2 152.4 125.5 155.9 124.3 159.9 124.6 162.5 126.1 163.9 129.1 164.3 M128.9 164.7 128.9 167.3 M205.7 63.4 206.2 65.8 206.8 66.7 204 68.1 201.8 69.5 198.1 70.8 198.1 72.4 M198.1 71.9 193.2 71.9 M198.1 72.4 198.1 73.9 194.3 73.9 194.3 76.8 193.2 77.3 193.2 79.3 188.5 79.3 M198.1 72.4 202.6 75 200.7 75 201.8 84.9 202.1 86 197.2 86.1 194.9 85.9 194.1 86.8 M189.1 85.4 191.4 84.7 193.2 86 194.1 86.8 195 89.6 M188.8 88.2 192 88.2 192 88.7 188.8 88.8 M188.9 89.6 192.4 89.4 195 89.6 197.8 89.6 198.9 92.1 201.8 91.9 M190.8 91.2 192.4 90.4 192.4 89.4 M192.8 93.5 195.5 92.4 196.3 94.1 194.9 95.8 M196.3 94.1 198.6 95.1 199.5 98.8 M198.6 95.1 198.9 92.1 M205 98 205 92.9 204.8 91.2 M201.8 91.9 204.8 91.2 208.4 91.2 209.2 91.2 M209.6 96.9 208.4 91.2 M210.2 96.7 209.2 91.2 210.7 89.6 212.4 90.4 M211.3 96.5 212.4 90.4 M201.8 91.9 201.8 90.6 203.2 88.7 205.9 86.8 208.4 86.6 210.7 89.6 M208.4 86.6 212.7 86 213.1 81.7 M202.6 75 209.6 79.5 211.9 81 213.1 81.7 215.1 81.2 222.1 76.8 M222.1 76.8 219.7 75.6 219.2 73.3 219.5 71 219.2 69 M219.2 69 217.8 66.4 217.1 64.6 218 61.3 M219.2 69 220.1 67.3 221.5 65.6 M222.1 76.8 225.5 77.3 236 81.4 236 80.8 237.1 80.8 237.1 67.3 M237.1 78.5 250.9 78.5 M236 81.4 236 85.8 234.2 87.7 234.2 91.2 M225.5 77.3 226.1 80.8 226.1 84.9 223.8 87.7 M212.4 90.4 213.4 88.2 216.3 88.9 219.2 89.1 223.8 87.7 M218 98.5 219.2 96.4 221.8 95.8 223.8 92.4 225 89.1 223.8 87.7 M225 89.1 225.9 92.4 225.5 95.2 M225.5 95.2 229.6 94.7 234.2 91.2 236 93.9 239.9 98 M225.5 95.2 225 98.1 226.7 101.4 M219.5 101.2 223.5 101.4 226.7 101.4 229.6 99.9 M219.5 102.7 221.3 102.7 221.3 101.4 M221 108.4 222.7 106.6 224.9 106.2 224.4 102.3 223.5 101.4 M222.3 110.6 223.2 109.2 225.9 108.9 226.9 106.2 228.8 104.5 229.6 99.9 229.7 98.9 M229.7 98.9 234.2 99.2 237.1 98.1 239.9 98 243.8 99.9 M236 93.9 240.6 92.8 245.2 90.6 247.5 91.8 247.5 94.1 M252.7 83.1 251 84.3 250.4 87.4 249.8 89.2 248.1 91.4 247.5 94.1 246.4 94.9 248.7 97.8 249.8 98.7 M249.8 98.7 253.3 99.9 255.6 99.4 256.8 99.1 M256.8 99.1 260.2 98.1 263.7 94.7 262.6 94.7 257.9 93 258.2 90.6 M250.4 87.4 253.3 87 256.2 88.9 257.9 89.5 M255.6 99.4 255.6 104.8 256.2 105.9 M248.7 97.8 247.5 99.1 248.1 102.7 247.5 105.1 M243.8 99.9 247.5 99.1 M247.5 105.1 251.8 107.5 253.5 109.3 M243.8 99.9 244.1 101.4 242.6 103.1 242.4 105.5 M242.4 105.5 243.5 105.2 243.8 106.7 243.5 109 242.2 109 M242 107 243.8 106.7 M243.5 105.2 247.5 105.1 M242.4 105.5 242 107.4 242.3 110.2 243.7 113.4 M243.7 113.4 246.3 114.8 247.5 114.9 248.1 117.2 251.6 117.4 254.9 116 M246.3 114.8 246.6 118.9 248.1 120.6 249 122.9 249.6 121.2 248.5 119.5 248.2 117.3 M243.7 113.4 241.4 113.9 241.2 116.3 242.7 118 241.7 119.4 239.7 117.5 236.3 116.9 236 118.9 233.6 118.9 233.6 122.6 235.2 124.3 M222.3 110.6 223.2 110.7 227.3 110.7 227.9 112.3 230.8 112.6 233.4 112.3 233.6 116.8 236 116.6 236.3 116.9 M221.8 123.9 224.4 124 229.6 124 235.2 124.3 237.5 124.4 M232.5 125 232.5 129.3 231.3 129.3 231.3 132.5 231.3 136.7 227.3 136.9 M231.3 132.5 234.8 133.1 237.7 133.6 239.4 131.3 242.2 129.5 M237.5 124.4 240.2 127.6 242.2 129.5 M237.5 124.4 239.4 124.7 241.6 122.3 243.4 121.9 M243.4 121.9 246.4 123.3 246.1 126.4 245.6 128.4 244.4 129.8 M242.2 129.5 244.4 129.8 245.2 132.2 245.2 134.8 246.3 135 M243.4 121.9 243.1 121 246.6 120.1 M239.4 138.1 241.2 137 242.2 138 240.9 139.2 239.4 138.1 M244.1 133.9 245.2 133.9 245.2 135.3 244.1 135.1 244.1 133.9 M198 55.5 200.7 55.6 200.1 57.7 199.8 59.5 199.6 61 M206.1 53.8 209 54.6 211.9 55 M211.1 44.9 213.1 46.2 215.1 46.8 217.7 47.3 217 48.9 215.1 50.6 216.3 51 216.1 52.8 216.9 53.3 M216.3 42.4 216.2 43.9 215.1 45.3 215.1 46.8 M212.1 44.6 214 44.6 215.1 45.3 M224.6 41.7 225.2 43.9 225.5 45 222.3 45.8 223.8 47.7 223.2 49.1 219.8 49.2 217 48.9 M218.1 40.5 219.7 40.6 M231.1 41.1 234.8 41.2 235.7 43.3 236 45.6 234.5 47.1 M225.5 45 227.9 45.8 230.2 46.8 234.5 47.1 M223.8 47.7 225.5 47.3 227.9 47.6 229.9 46.8 M227.9 47.6 227.9 48.5 230.2 48.7 234.2 48.4 M227.9 48.5 226.9 49.9 224 50.2 M216.3 51 218.6 50.6 220.3 49.9 222.4 49.6 224 50.2 224 51.1 M219.8 49.2 220.3 49.9 M226.9 49.9 229.9 50.9 231.7 50.7 M224 51.4 225.9 51.4 227.3 50.3 M226.5 51.7 226.7 53.7 228.7 54.4 M226.5 51.7 230.2 52 230.6 52.1 M230.6 52.1 230.4 53.7 229.6 54.8 M230.6 52.1 233.1 52.2 234.5 52.9 M231.7 50.7 230.2 50.9 230.2 52 M230.6 55.5 231.9 55.2 232.3 56.7 231.3 58.1 M231.9 55.2 234.1 55.1 234.8 56.2 232.3 56.7 M234.1 55.1 234.5 52.9 M234.8 56.2 238.6 55.8 240.6 55.4 M238.6 55.8 238.3 56.9 M221.2 35.8 222.4 33.5 222.3 31.2 224.4 29.4 225.5 27.5 227.9 25.4 231.3 24.2 231.9 24.1 M236.2 27.9 235.6 26 231.9 24.1 237.1 24.6 238.3 23.2 241.7 23.7 243.8 23.3 M240.6 34.1 242.9 32.3 244.6 31.2 242.9 29.4 242.3 27.1 241.7 25.4 241.2 24.2 243.8 23.3 M240.6 35.2 240 37.2 240.6 39 243.8 39.7 245.2 41.8 244.6 43.6 247.5 43.6 249.3 45.6 252.2 46.3 254.5 46.6 254.2 48.6 252.5 49.4 M236.3 37.2 240 37.2 M232.5 39.1 237.1 38.9 240.6 39 M234.6 41.1 237.7 41.3 238.9 39.8 240.6 39 M232.5 40.2 234.6 41.1 M235.7 44.3 239.4 44.3 243.5 44.4 244.6 43.6 M234.2 48.4 236.9 48.7 239 48.1 240.8 50.2 240.8 51.4 242.6 51.6 M239 48.1 242 48.5 242.9 50.3 M234.5 52.9 237.7 53.5 239.4 53 241.3 53.3 M234.2 48.4 232.7 50.6 231.7 50.7 M199.8 40.4 198.9 41.1 200.9 41.4 M204.7 39.4 205.9 39.5 M256.2 56 258.5 56.5 260 58.1 259.4 59.6 260 61 257.1 61 254.5 61.4 252.2 61.4 250.6 61.4 250.1 62.3 M254.5 53.8 257.9 54.7 262 55.6 264.3 55.5 M258.5 56.5 262 56.5 262 55.6 M260 58.1 262 59 264.8 59.5 M262 56.5 260.2 57.7 262 59 M260 61 261.4 62.6 260.8 64.6 261.6 65.8 263.5 67.2 264.3 69.3 M270.5 60.7 274.1 59.8 279 61.6 278.3 64.1 278.8 67.5 279.7 68.3 278.6 69.5 281.1 72.5 279.5 74.8 M278.6 69.5 284.9 69.5 288.4 67.1 289.2 64.9 290.9 63.5 290.9 61.9 294.8 61 M279 62.8 282.8 62.1 285.1 60.7 288.6 61 290.9 60.1 290.9 61.4 294.8 61 M287.1 76.5 290.3 75.6 289.2 71.8 292.6 69.3 294.4 67.5 294.4 65.8 297 62.8 298.2 62.9 M298.2 62.9 299.6 66.4 301.9 69 305.4 70.8 310 71.7 310.9 72.4 314.2 71.8 317.5 70.1 320.4 71.2 320.7 72.2 M300.8 70.7 304.8 72.3 310.1 73.4 310 71.7 M310.9 72.4 311.1 73.1 314.6 72.8 314.2 71.8 M310.1 73.4 310.2 75.6 311.1 78.5 M315 79.7 315.2 76.5 313.7 76.2 315 75 312.1 74.7 310.2 73.5 M320.7 72.2 318.1 73.3 316.9 76.3 316.1 78.3 315 79.7 M320.7 72.2 322.4 74.1 321.1 76.2 322.7 78.3 325.1 79 324 80.5 321.6 81.2 321.2 82.5 322.2 85.1 321.8 86.6 322.9 88.3 322.7 90.6 322.4 92.1 M324 80.5 325 83.4 326.3 82.9 328.5 82.8 329.4 84.9 330.3 86.8 329.4 87.3 327.2 87.5 326.9 89.5 327.2 90.4 M325.1 79 326.4 77.9 330.1 77 333.1 79 M326.4 77.9 327.3 79.9 329.1 80.3 329.9 82.5 332.5 85.2 332.5 87 330.8 90.3 329.1 91.9 M330.3 86.8 332.5 87 M324 96.4 325.9 97.2 326.3 96.7 M335 101.6 336.6 102.7 338.9 102.2 341.2 100.7 342.4 98.9 344.2 99.1 M371.3 106.9 371.3 114.4 M351.7 114.8 352.8 114.5 352.8 113.8 M264.3 50.2 263.1 48.5 262.6 46.2 267.2 44.4 271.8 45.4 276.4 45.4 279.3 42.1 284.5 41 289.2 40.2 293.2 41.8 296.7 41.2 300.7 45.1 304.8 45 309.2 47.1 M309.2 47.1 307.1 49.5 303.6 51.6 301.1 55.2 M301.1 55.2 296.7 57.1 293.4 58.3 294.8 61 M309.2 47.1 313.5 51.7 318.7 52.9 320.4 54.6 325.6 54.8 329.6 55.9 336 54.5 337.7 52.1 342.4 50.2 346.8 50 342.4 48.5 343.2 46.4 M309.2 47.1 314.6 45.4 321.6 43.9 326.2 45.6 332 46.4 337.7 46.9 343.2 46.4 M343.2 46.4 347 42.9 351 42.1 354.5 43.9 356.3 46.5 359.7 48.7 364.3 48 362.6 51.4 360.1 52.2 359.4 55.1 M359.4 55.1 356.3 55.6 353.9 56.6 352 57.7 M354.2 60.3 356.7 59.3 M269.5 55.4 273 56.2 273 52 275.9 51.4 278.8 52.8 282.8 53.7 285.1 56.3 288 56.2 290.3 55.1 293.2 54.3 301.1 55.2 M273 56.2 275.9 54.6 278.8 56.3 280.5 57.7 285.1 60.7 M285.1 56.3 286.9 57.7 289.7 57.5 293.4 58.3 M288 56.2 290.3 56.6 292.6 57.1 293.4 58.3 M286.9 57.7 286.9 60 290.9 60.1 M248.6 70 250 70.2 251.6 69.3 253.1 67.1 253.5 66.7 256.8 68 259.9 70.2 262 70.3 263.4 71 264.2 71 M262 70.3 263.1 69.3 263.7 69.4 M253.5 66.7 253.1 65.3 255.6 64.2 256 61.8 257.1 61 M253.1 65.3 249.8 66.3 249.4 65.6 250.4 64.1 249.8 64 M249.4 65.6 248.8 65.7 M249.3 66.3 249.3 67.8 248.7 69.8 M247.8 67.8 248.6 69.8 M257.7 85 259.1 83.8 262.6 84.3 268.3 82 271.8 80.8 272.6 78.5 272 77.7 269 77.5 267.9 76 M268.3 82 269.6 84.7 M272 77.7 273 76.2 273.1 75.2 273.3 74.3 M267 75.4 267.4 75.5" fill="none" stroke="#000" stroke-width="0.6" stroke-linejoin="round"/><path id="grn" d="M123.8 13.6 129.5 11.8 133 10.2 138.8 9.2 148.1 8.9 156.1 8.5 164.2 7.6 173.5 7.6 180.4 8.4 185.1 9.5 192 9.8 194.3 10.6 188.5 11.5 186.2 13.3 186.8 15.4 185.1 17 185.1 18.7 181.6 19.9 182.8 21.4 181.6 22.7 177.5 23.3 180.4 24.2 177 25.1 172.3 25.4 170 26.6 166.6 27.9 163.1 28.3 161.4 29.7 159.6 31.4 158.5 33.7 156.7 34.7 154.4 33.8 152.1 33.5 150.4 31.7 148.6 30 147.5 28.3 146.1 26.6 146.9 24.8 149.2 23.4 145.2 22.7 145.2 21.1 143.4 19.6 141.7 17.9 138.8 16.4 134.2 15.8 129.5 16.2 126.1 14.8 127.2 14.1 123.8 13.6Z"/><path id="ant" d="M0 194.2 11.6 194.5 23.1 193.9 28.9 193 34.7 192.2 40.5 191.1 52 189.9 63.6 189.1 75.2 189.3 86.7 190.3 92.5 188.2 98.3 188.2 106.4 188.2 115.7 188.5 121.4 187 127.2 185.3 129.5 182.4 131.9 180.1 135.3 178.4 141.1 177 141.7 178.4 137.6 180.1 135.3 182.4 137.6 185.9 137.6 189.3 133 192.2 138.8 193.4 150.4 193.9 159.6 194.2 167.7 193.7 173.5 192.2 178.1 190.5 185.1 188.4 190.8 187.4 196.6 185.9 202.4 185.6 208.2 184.5 214 184.7 222.1 184.5 231.3 184.5 239.4 184.1 246.4 183.2 252.2 184.1 254.5 183.2 260.2 181.8 266 180.7 271.8 180.1 277.6 181.6 283.4 181.8 289.2 183 291.5 184.4 294.9 184.1 298.4 182.7 303 181.2 310 180.8 318.1 180.1 323.9 179.9 329.6 180.4 335.4 180.1 341.2 180.7 347 181 352.8 180.4 358.6 180.1 364.3 180.1 370.1 180.9 375.9 181.2 381.7 182.7 387.5 183.6 393.3 184.7 399 185.6 404.8 186.4 402.5 188.8 399 191.1 397.9 193.4 401.4 193.9 410.6 194.2 416.4 194.2 416.4 209 0 209Z"/><clipPath id="grnclip"><use href="#grn"/></clipPath></defs>
<g transform="translate(340,48)"><g clip-path="url(#clip)"><g filter="url(#cmA)"><rect x="-20" y="-20" width="456.4" height="247.8" fill="rgb(21,21,21)"/><path d="M0 34.6 34.7 36.9 52 40.4 60.1 48.5 63.6 57.7 46.3 60 23.1 61.2 0 62.3Z" fill="rgb(23,23,23)" filter="url(#b3_0)"/><path d="M347 34.6 370.1 34.6 393.3 36.9 416.4 34.6 416.4 64.6 393.3 65.8 375.9 67 358.6 62.3 349.3 52Z" fill="rgb(29,29,29)" filter="url(#b3_0)"/><path d="M138.8 46.2 156.1 36.9 173.5 32.3 196.6 30 201.3 43.9 196.6 53.1 185.1 57.7 161.9 55.4Z" fill="rgb(25,25,25)" filter="url(#b4_0)"/><ellipse cx="39.3" cy="72.7" rx="24.3" ry="7.5" fill="rgb(12,12,12)" filter="url(#b3_0)"/><ellipse cx="99.5" cy="133.9" rx="24.3" ry="4.2" transform="rotate(19 99.5 133.9)" fill="rgb(12,12,12)" filter="url(#b2_5)"/><path d="M-1.2 78.5 9.3 79.7 16.2 86.6 11.6 94.7 -1.2 95.8Z" fill="rgb(28,28,28)" filter="url(#b2_0)"/><path d="M74 79.7 86.7 78.5 98.3 83.1 109.9 87.7 119.1 93.5 118 108.5 113.4 117.8 104.1 115.4 92.5 106.2 78.7 97Z" fill="rgb(30,30,30)" filter="url(#b2_5)"/><ellipse cx="114.5" cy="108.5" rx="2.9" ry="6.9" fill="rgb(37,37,37)" filter="url(#b1_5)"/><path d="M138.8 150.1 173.5 147.8 208.2 150.1 254.5 152.4 300.7 154.7 347 157 417.6 161.6 417.6 175.5 138.8 175.5Z" fill="rgb(24,24,24)" filter="url(#b3_0)"/><rect x="-1.2" y="167.4" width="418.7" height="10.4" fill="rgb(25,25,25)" filter="url(#b2_0)"/><ellipse cx="54.4" cy="176.6" rx="13.9" ry="3.5" fill="rgb(36,36,36)" filter="url(#b2_0)"/><path d="M-1.2 179.5 34.7 181.2 69.4 182.4 104.1 181.2 127.2 178.9 150.4 176.1 185.1 174.3 208.2 173.7 242.9 174.9 266 176.6 277.6 178.9 312.3 178.4 347 178.4 370.1 178.4 381.7 178.9 417.6 180.1 417.6 207.8 -1.2 207.8Z" fill="rgb(3,3,3)" filter="url(#b1_3)"/><rect x="0" y="-2.3" width="416.4" height="13.3" fill="rgb(3,3,3)" filter="url(#b0_8)"/><rect x="0" y="11.5" width="71.7" height="10.4" fill="rgb(33,33,33)" filter="url(#b1_5)"/><rect x="71.7" y="11.5" width="124.9" height="6.9" fill="rgb(19,19,19)" filter="url(#b1_5)"/><rect x="196.6" y="11.5" width="220.9" height="9.2" fill="rgb(20,20,20)" filter="url(#b1_5)"/><rect x="196.6" y="11.1" width="220.9" height="2.1" fill="rgb(30,30,30)" filter="url(#b0_8)"/><path d="M16.2 24.2 46.3 23.1 69.4 23.1 98.3 24.2 115.7 25.4 133 34.6 141.1 42.7 131.9 48.5 121.4 55.4 113.4 62.3 104.1 65.8 94.8 69.3 85.6 69.3 74 67 65.9 60 63.6 48.5 52 36.9 34.7 34.6 17.3 34.6Z" fill="rgb(12,12,12)" filter="url(#b2_5)"/><ellipse cx="32.4" cy="28.9" rx="10.4" ry="4" fill="rgb(3,3,3)" filter="url(#b1_5)"/><ellipse cx="78.7" cy="57.7" rx="8.1" ry="6.9" transform="rotate(-20 78.7 57.7)" fill="rgb(4,4,4)" filter="url(#b2_0)"/><ellipse cx="71.7" cy="32.3" rx="16.2" ry="4.6" fill="rgb(8,8,8)" filter="url(#b2_0)"/><ellipse cx="86.7" cy="64.6" rx="4.6" ry="3.5" fill="rgb(5,5,5)" filter="url(#b1_5)"/><ellipse cx="124.9" cy="40.4" rx="6.9" ry="4.6" fill="rgb(8,8,8)" filter="url(#b2_0)"/><ellipse cx="106.4" cy="60" rx="9.3" ry="5.8" fill="rgb(19,19,19)" filter="url(#b2_5)"/><ellipse cx="92.5" cy="78.5" rx="5.8" ry="5.8" fill="rgb(18,18,18)" filter="url(#b2_0)"/><path d="M123.8 124.7 134.2 127 141.1 136.2 136.5 147.8 131.9 157 127.2 163.9 122.6 161.6 124.9 144.3 127.2 132.8Z" fill="rgb(10,10,10)" filter="url(#b2_0)"/><ellipse cx="129.5" cy="138.5" rx="2.9" ry="10.4" fill="rgb(4,4,4)" filter="url(#b1_5)"/><ellipse cx="128.4" cy="159.3" rx="2.9" ry="4.6" fill="rgb(4,4,4)" filter="url(#b1_5)"/><ellipse cx="159.6" cy="117.8" rx="4.6" ry="6.9" fill="rgb(12,12,12)" filter="url(#b2_0)"/><path d="M115.7 94.7 138.8 93.5 152.7 101.6 166.6 110.8 178.1 122.4 164.2 133.9 150.4 138.5 136.5 131.6 124.9 124.7 115.7 110.8Z" fill="rgb(30,30,30)" filter="url(#b3_0)"/><ellipse cx="140" cy="114.3" rx="17.3" ry="11.5" transform="rotate(15 140 114.3)" fill="rgb(46,46,46)" filter="url(#b3_0)"/><ellipse cx="141.1" cy="114.9" rx="11.6" ry="7.5" transform="rotate(20 141.1 114.9)" fill="rgb(63,63,63)" filter="url(#b2_2)"/><ellipse cx="130.7" cy="99.3" rx="8.1" ry="4.6" fill="rgb(33,33,33)" filter="url(#b2_5)"/><ellipse cx="121.4" cy="87.7" rx="13.9" ry="5.8" fill="rgb(26,26,26)" filter="url(#b3_0)"/><path d="M134.2 80.8 156.1 72.7 173.5 69.3 189.7 69.3 198.9 80.8 194.3 97 179.3 100.4 159.6 99.3 138.8 94.7Z" fill="rgb(30,30,30)" filter="url(#b3_5)"/><path d="M152.7 84.3 173.5 76.2 189.7 72.7 194.3 90 182.8 97 164.2 94.7Z" fill="rgb(39,39,39)" filter="url(#b3_0)"/><ellipse cx="182.8" cy="85.4" rx="13.9" ry="6.3" transform="rotate(-10 182.8 85.4)" fill="rgb(49,49,49)" filter="url(#b2_5)"/><path d="M171.2 107.4 190.8 99.3 214 97 237.1 100.4 252.2 109.7 256.8 121.2 263.7 132.8 254.5 140.8 231.3 138.5 214 132.8 190.8 124.7 173.5 115.4Z" fill="rgb(30,30,30)" filter="url(#b4_0)"/><path d="M180.4 108.5 202.4 100.4 229 99.3 246.4 105.1 249.8 117.8 242.9 127 222.1 129.3 203.6 127 187.4 120.1Z" fill="rgb(44,44,44)" filter="url(#b3_0)"/><ellipse cx="217.5" cy="114.3" rx="19.7" ry="10.4" transform="rotate(12 217.5 114.3)" fill="rgb(61,61,61)" filter="url(#b2_5)"/><ellipse cx="233.6" cy="110.8" rx="11.6" ry="8.1" fill="rgb(63,63,63)" filter="url(#b2_5)"/><ellipse cx="215.1" cy="115.4" rx="8.1" ry="7.5" transform="rotate(40 215.1 115.4)" fill="rgb(90,90,90)" filter="url(#b2_2)"/><ellipse cx="217.5" cy="117.2" rx="4.4" ry="6.9" transform="rotate(30 217.5 117.2)" fill="rgb(144,144,144)" filter="url(#b1_5)"/><path d="M188.5 71.6 202.4 67 219.8 65.8 237.1 68.1 248.7 71.6 254.5 83.1 252.2 94.7 231.3 99.3 214 99.3 196.6 98.1 188.5 90Z" fill="rgb(39,39,39)" filter="url(#b3_0)"/><path d="M188.5 77.3 205.9 73.9 222.1 75 238.3 78.5 242.9 90 222.1 95.8 198.9 94.7 188.5 90Z" fill="rgb(54,54,54)" filter="url(#b2_5)"/><ellipse cx="201.3" cy="82" rx="5.8" ry="2.9" fill="rgb(66,66,66)" filter="url(#b2_0)"/><ellipse cx="225.5" cy="83.7" rx="5.8" ry="2.9" fill="rgb(70,70,70)" filter="url(#b2_0)"/><ellipse cx="202.4" cy="81.4" rx="2.3" ry="1.3" fill="rgb(140,140,140)" filter="url(#b0_7)"/><ellipse cx="226.7" cy="83.9" rx="3.2" ry="1.5" fill="rgb(148,148,148)" filter="url(#b0_7)"/><ellipse cx="242.9" cy="73.9" rx="6.9" ry="4.6" fill="rgb(26,26,26)" filter="url(#b2_5)"/><path d="M248.7 65.8 260.2 61.2 271.8 63.5 279.9 69.3 289.2 69.3 298.4 76.2 300.7 94.7 291.5 106.2 275.3 106.2 263.7 99.3 256.8 91.2 251 83.1 247.5 72.7Z" fill="rgb(41,41,41)" filter="url(#b3_0)"/><path d="M254.5 78.5 261.4 68.1 268.3 70.4 275.3 76.2 284.5 73.9 293.8 76.2 296.1 87.7 291.5 97 279.9 97 266 91.2 256.8 88.9Z" fill="rgb(56,56,56)" filter="url(#b2_5)"/><ellipse cx="256.8" cy="84.3" rx="2.9" ry="6.9" transform="rotate(-25 256.8 84.3)" fill="rgb(62,62,62)" filter="url(#b2_0)"/><ellipse cx="266" cy="72.7" rx="3.5" ry="4.6" transform="rotate(-40 266 72.7)" fill="rgb(63,63,63)" filter="url(#b2_0)"/><path d="M284.5 64.6 296.1 63.5 305.4 69.3 315.8 72.7 321.6 80.8 319.2 97 307.7 103.9 296.1 101.6 286.9 92.4 282.2 78.5Z" fill="rgb(53,53,53)" filter="url(#b3_0)"/><path d="M286.9 69.3 296.1 67 307.7 72.7 314.6 76.2 314.6 87.7 305.4 94.7 296.1 94.7 289.2 85.4 285.7 76.2Z" fill="rgb(64,64,64)" filter="url(#b2_2)"/><ellipse cx="299" cy="84.3" rx="3.5" ry="5.2" fill="rgb(44,44,44)" filter="url(#b1_8)"/><path d="M290.3 67.5 294.9 69.3 299.6 72.2 305.4 74.5 310 76.2 313.5 76.8" fill="none" stroke="rgb(82,82,82)" stroke-width="3.9" stroke-linecap="round" stroke-linejoin="round" filter="url(#b1_8)"/><path d="M291.5 68.1 296.1 70.4 300.7 73 306.5 75 311.1 76.8" fill="none" stroke="rgb(144,144,144)" stroke-width="2.7" stroke-linecap="round" stroke-linejoin="round" filter="url(#b0_8)"/><ellipse cx="311.1" cy="86.6" rx="5.8" ry="8.1" fill="rgb(59,59,59)" filter="url(#b2_5)"/><path d="M259.1 46.2 271.8 43.9 286.9 46.2 291.5 53.1 286.9 61.2 275.3 62.3 263.7 60Z" fill="rgb(36,36,36)" filter="url(#b3_0)"/><ellipse cx="277" cy="51.3" rx="2.2" ry="1.6" fill="rgb(222,222,222)" filter="url(#b0_5)"/><ellipse cx="277" cy="51.4" rx="3.5" ry="2.9" fill="rgb(53,53,53)" filter="url(#b1_5)"/><ellipse cx="268.3" cy="55.4" rx="3.5" ry="5.8" fill="rgb(45,45,45)" filter="url(#b2_0)"/><path d="M296.1 60 312.3 57.7 326.2 60 330.8 69.3 323.9 72.7 310 70.4 299.6 67Z" fill="rgb(12,12,12)" filter="url(#b2_5)"/><ellipse cx="327.3" cy="68.1" rx="4" ry="4" fill="rgb(3,3,3)" filter="url(#b1_5)"/><ellipse cx="305.4" cy="64.6" rx="5.8" ry="2.9" fill="rgb(4,4,4)" filter="url(#b1_5)"/><ellipse cx="305.4" cy="57.7" rx="6.9" ry="2.3" fill="rgb(37,37,37)" filter="url(#b2_0)"/><ellipse cx="231.3" cy="48.5" rx="25.4" ry="10.4" fill="rgb(25,25,25)" filter="url(#b4_0)"/><ellipse cx="248.7" cy="38.1" rx="23.1" ry="6.9" fill="rgb(20,20,20)" filter="url(#b3_0)"/><path d="M266 23.1 323.9 19.6 370.1 20.8 410.6 25.4 414.1 32.3 381.7 39.3 347 43.9 312.3 43.9 277.6 39.3 260.2 32.3Z" fill="rgb(13,13,13)" filter="url(#b3_0)"/><ellipse cx="384" cy="27.7" rx="5.8" ry="1.8" transform="rotate(10 384 27.7)" fill="rgb(5,5,5)" filter="url(#b1_5)"/><ellipse cx="328.5" cy="48.5" rx="9.3" ry="2.9" fill="rgb(4,4,4)" filter="url(#b1_6)"/><ellipse cx="323.9" cy="23.1" rx="13.9" ry="2.3" fill="rgb(20,20,20)" filter="url(#b1_5)"/><path d="M323.9 55.4 341.2 43.9 360.9 46.2 372.4 55.4 367.8 71.6 356.3 85.4 337.7 92.4 323.9 94.7 316.9 83.1 323.9 71.6 328.5 63.5Z" fill="rgb(43,43,43)" filter="url(#b3_5)"/><path d="M328.5 60 340.1 53.1 351.6 50.8 360.9 48.5 356.3 57.7 351.6 69.3 345.8 78.5 333.1 80.8 327.3 71.6Z" fill="rgb(64,64,64)" filter="url(#b2_5)"/><ellipse cx="340.1" cy="67" rx="7.5" ry="9.2" transform="rotate(25 340.1 67)" fill="rgb(86,86,86)" filter="url(#b2_5)"/><ellipse cx="343" cy="63.5" rx="3" ry="5.2" transform="rotate(25 343 63.5)" fill="rgb(128,128,128)" filter="url(#b1_4)"/><ellipse cx="337.7" cy="69.3" rx="4" ry="2.9" fill="rgb(119,119,119)" filter="url(#b1_4)"/><ellipse cx="344.7" cy="61.2" rx="2.5" ry="2.9" fill="rgb(144,144,144)" filter="url(#b1_2)"/><ellipse cx="337.7" cy="72.7" rx="2.3" ry="2.9" fill="rgb(128,128,128)" filter="url(#b1_2)"/><ellipse cx="330.8" cy="69.3" rx="1.7" ry="1.7" fill="rgb(115,115,115)" filter="url(#b1_0)"/><path d="M314.6 78.5 333.1 78.5 347 83.1 356.3 94.7 360.9 108.5 349.3 115.4 329.6 114.3 319.2 106.2 314.6 94.7Z" fill="rgb(44,44,44)" filter="url(#b3_0)"/><ellipse cx="327.3" cy="87.7" rx="6.9" ry="6.9" fill="rgb(58,58,58)" filter="url(#b2_5)"/><ellipse cx="333.1" cy="103.9" rx="13.9" ry="5.8" fill="rgb(54,54,54)" filter="url(#b2_5)"/><ellipse cx="326.8" cy="105.1" rx="4" ry="3.5" transform="rotate(40 326.8 105.1)" fill="rgb(66,66,66)" filter="url(#b2_0)"/><ellipse cx="338.9" cy="105.6" rx="4.6" ry="2.9" fill="rgb(70,70,70)" filter="url(#b2_0)"/><ellipse cx="326.8" cy="105.3" rx="2.5" ry="1.7" transform="rotate(40 326.8 105.3)" fill="rgb(148,148,148)" filter="url(#b0_8)"/><ellipse cx="339.5" cy="106.2" rx="3" ry="1.6" fill="rgb(148,148,148)" filter="url(#b0_8)"/><ellipse cx="372.4" cy="109.7" rx="9.3" ry="3.5" fill="rgb(28,28,28)" filter="url(#b2_5)"/><path d="M352.8 69.3 381.7 71.6 404.8 78.5 416.4 80.8 416.4 98.1 381.7 100.4 358.6 97 351.6 86.6Z" fill="rgb(23,23,23)" filter="url(#b4_0)"/><path d="M370.1 108.5 387.5 113.1 404.8 120.1 417.6 124.7" fill="none" stroke="rgb(27,27,27)" stroke-width="5.8" stroke-linecap="round" stroke-linejoin="round" filter="url(#b2_0)"/><path d="M340.1 129.3 349.3 123.5 358.6 118.9 366.7 121.2 372.4 118.9 377.1 125.8 384 132.8 385.2 139.7 380.5 146.6 371.3 146.6 364.3 142 352.8 141.4 342.4 143.2Z" fill="rgb(10,10,10)" filter="url(#b2_0)"/><path d="M342.4 131.6 351.6 125.8 360.9 123.5 370.1 125.8 377.1 129.3 381.7 136.2 379.4 143.2 370.1 143.2 362 139.7 351.6 139.7 343.5 139.7Z" fill="rgb(2,2,2)" filter="url(#b1_6)"/><ellipse cx="360.9" cy="116.6" rx="13.9" ry="2.9" fill="rgb(27,27,27)" filter="url(#b2_0)"/><path d="M225.5 125.8 233.6 124.7 240.6 128.1 244.1 133.9 241.7 139.7 236 143.2 230.2 143.2 227.9 137.4 224.4 130.5Z" fill="rgb(3,3,3)" filter="url(#b1_6)"/><path d="M246.4 102.7 253.3 105.1 253.3 114.3 249.8 118.9 246.4 114.3 245.2 107.4Z" fill="rgb(8,8,8)" filter="url(#b1_6)"/><ellipse cx="254.5" cy="133.9" rx="13.9" ry="6.9" transform="rotate(20 254.5 133.9)" fill="rgb(27,27,27)" filter="url(#b2_5)"/><ellipse cx="262.6" cy="126.4" rx="2.1" ry="6.9" transform="rotate(15 262.6 126.4)" fill="rgb(8,8,8)" filter="url(#b1_3)"/><ellipse cx="252.2" cy="93.5" rx="3.5" ry="4.6" fill="rgb(13,13,13)" filter="url(#b1_5)"/><ellipse cx="407.1" cy="152.4" rx="4.6" ry="5.8" transform="rotate(-30 407.1 152.4)" fill="rgb(13,13,13)" filter="url(#b1_5)"/></g><use href="#grn" fill="#d3d3d3"/><use href="#ant" fill="#d3d3d3"/><path d="M65.9 27.1 70.6 26.6 71.7 27.9 68.2 28.6Z" fill="#d3d3d3"/><path d="M73.4 33.1 77.5 31.6 80.4 31.9 76.9 33.1Z" fill="#d3d3d3"/><path d="M89.1 36.4 91.4 35.8 92 37.2 89.6 37.5Z" fill="#d3d3d3"/><path d="M120.3 38.7 124.9 38.1 126.7 41 122.6 41.6Z" fill="#d3d3d3"/><path d="M93.7 30 97.2 29.7 96.6 30.9Z" fill="#d3d3d3"/><use href="#coast"/><use href="#bord"/><use href="#mald"/><use href="#thick"/><use href="#thin2"/><use href="#grn" fill="none" stroke="#000" stroke-width="1.1"/><use href="#ant" fill="none" stroke="#000" stroke-width="1.1"/></g><path d="M0 0v-7 M0 207.8v7 M11.6 0v-4 M11.6 207.8v4 M23.1 0v-4 M23.1 207.8v4 M34.7 0v-7 M34.7 207.8v7 M46.3 0v-4 M46.3 207.8v4 M57.8 0v-4 M57.8 207.8v4 M69.4 0v-7 M69.4 207.8v7 M81 0v-4 M81 207.8v4 M92.5 0v-4 M92.5 207.8v4 M104.1 0v-7 M104.1 207.8v7 M115.7 0v-4 M115.7 207.8v4 M127.2 0v-4 M127.2 207.8v4 M138.8 0v-7 M138.8 207.8v7 M150.4 0v-4 M150.4 207.8v4 M161.9 0v-4 M161.9 207.8v4 M173.5 0v-7 M173.5 207.8v7 M185.1 0v-4 M185.1 207.8v4 M196.6 0v-4 M196.6 207.8v4 M208.2 0v-7 M208.2 207.8v7 M219.8 0v-4 M219.8 207.8v4 M231.3 0v-4 M231.3 207.8v4 M242.9 0v-7 M242.9 207.8v7 M254.5 0v-4 M254.5 207.8v4 M266 0v-4 M266 207.8v4 M277.6 0v-7 M277.6 207.8v7 M289.2 0v-4 M289.2 207.8v4 M300.7 0v-4 M300.7 207.8v4 M312.3 0v-7 M312.3 207.8v7 M323.9 0v-4 M323.9 207.8v4 M335.4 0v-4 M335.4 207.8v4 M347 0v-7 M347 207.8v7 M358.6 0v-4 M358.6 207.8v4 M370.1 0v-4 M370.1 207.8v4 M381.7 0v-7 M381.7 207.8v7 M393.3 0v-4 M393.3 207.8v4 M404.8 0v-4 M404.8 207.8v4 M416.4 0v-7 M416.4 207.8v7 M0 0h-7 M416.4 0h7 M0 11.5h-4 M416.4 11.5h4 M0 23.1h-4 M416.4 23.1h4 M0 34.6h-7 M416.4 34.6h7 M0 46.2h-4 M416.4 46.2h4 M0 57.7h-4 M416.4 57.7h4 M0 69.3h-7 M416.4 69.3h7 M0 80.8h-4 M416.4 80.8h4 M0 92.4h-4 M416.4 92.4h4 M0 103.9h-7 M416.4 103.9h7 M0 115.4h-4 M416.4 115.4h4 M0 127h-4 M416.4 127h4 M0 138.5h-7 M416.4 138.5h7 M0 150.1h-4 M416.4 150.1h4 M0 161.6h-4 M416.4 161.6h4 M0 173.2h-7 M416.4 173.2h7 M0 184.7h-4 M416.4 184.7h4 M0 196.3h-4 M416.4 196.3h4 M0 207.8h-7 M416.4 207.8h7 " stroke="#222" stroke-width="1" fill="none"/><rect x="0" y="0" width="416.4" height="207.8" fill="none" stroke="#222" stroke-width="1.1"/><g font-size="13.8" text-anchor="middle"><text x="0" y="235.8">180</text><text x="34.7" y="235.8">150W</text><text x="69.4" y="235.8">120W</text><text x="104.1" y="235.8">90W</text><text x="138.8" y="235.8">60W</text><text x="173.5" y="235.8">30W</text><text x="208.2" y="235.8">0</text><text x="242.9" y="235.8">30E</text><text x="277.6" y="235.8">60E</text><text x="312.3" y="235.8">90E</text><text x="347" y="235.8">120E</text><text x="381.7" y="235.8">150E</text><text x="416.4" y="235.8">180</text></g><g font-size="15.5" text-anchor="end"><text x="-17.5" y="5.6">90N</text><text x="-17.5" y="40.2">60N</text><text x="-17.5" y="74.9">30N</text><text x="-17.5" y="109.5">0</text><text x="-17.5" y="144.1">30S</text><text x="-17.5" y="178.8">60S</text><text x="-17.5" y="213.4">90S</text></g><g font-size="15.5"><text x="0.5" y="-10.3">AOD 550 nm</text><text x="208.2" y="-10.3" text-anchor="middle">MODIS-SON</text><text x="416.4" y="-10.3" text-anchor="end">0.16</text></g><rect x="5" y="166.5" width="33" height="35.5" fill="#fff"/><text x="12" y="190.8" font-size="22">a)</text><rect x="2" y="247" width="13.5" height="11.9" fill="#ffffff"/><rect x="15.3" y="247" width="13.5" height="11.9" fill="#dcdcff"/><rect x="28.6" y="247" width="13.5" height="11.9" fill="#bcbcff"/><rect x="41.9" y="247" width="13.5" height="11.9" fill="#9c9cff"/><rect x="55.1" y="247" width="13.5" height="11.9" fill="#7c7cff"/><rect x="68.4" y="247" width="13.5" height="11.9" fill="#5c5cff"/><rect x="81.7" y="247" width="13.5" height="11.9" fill="#3a3aff"/><rect x="95" y="247" width="13.5" height="11.9" fill="#1a1aff"/><rect x="108.3" y="247" width="13.5" height="11.9" fill="#0000f4"/><rect x="121.6" y="247" width="13.5" height="11.9" fill="#0020d0"/><rect x="134.9" y="247" width="13.5" height="11.9" fill="#0038b0"/><rect x="148.2" y="247" width="13.5" height="11.9" fill="#005090"/><rect x="161.4" y="247" width="13.5" height="11.9" fill="#006870"/><rect x="174.7" y="247" width="13.5" height="11.9" fill="#008050"/><rect x="188" y="247" width="13.5" height="11.9" fill="#009830"/><rect x="201.3" y="247" width="13.5" height="11.9" fill="#00ac18"/><rect x="214.6" y="247" width="13.5" height="11.9" fill="#28b41c"/><rect x="227.9" y="247" width="13.5" height="11.9" fill="#48c018"/><rect x="241.2" y="247" width="13.5" height="11.9" fill="#68c810"/><rect x="254.5" y="247" width="13.5" height="11.9" fill="#88d810"/><rect x="267.7" y="247" width="13.5" height="11.9" fill="#a8e010"/><rect x="281" y="247" width="13.5" height="11.9" fill="#c8f010"/><rect x="294.3" y="247" width="13.5" height="11.9" fill="#e8f810"/><rect x="307.6" y="247" width="13.5" height="11.9" fill="#fff000"/><rect x="320.9" y="247" width="13.5" height="11.9" fill="#ffc800"/><rect x="334.2" y="247" width="13.5" height="11.9" fill="#ffa400"/><rect x="347.5" y="247" width="13.5" height="11.9" fill="#ff8000"/><rect x="360.8" y="247" width="13.5" height="11.9" fill="#ff6000"/><rect x="374" y="247" width="13.5" height="11.9" fill="#ff4000"/><rect x="387.3" y="247" width="13.5" height="11.9" fill="#ff2000"/><rect x="400.6" y="247" width="13.5" height="11.9" fill="#ff0000"/><path d="M2 247v11.9M15.3 247v11.9M28.6 247v11.9M41.9 247v11.9M55.1 247v11.9M68.4 247v11.9M81.7 247v11.9M95 247v11.9M108.3 247v11.9M121.6 247v11.9M134.9 247v11.9M148.2 247v11.9M161.4 247v11.9M174.7 247v11.9M188 247v11.9M201.3 247v11.9M214.6 247v11.9M227.9 247v11.9M241.2 247v11.9M254.5 247v11.9M267.7 247v11.9M281 247v11.9M294.3 247v11.9M307.6 247v11.9M320.9 247v11.9M334.2 247v11.9M347.5 247v11.9M360.8 247v11.9M374 247v11.9M387.3 247v11.9M400.6 247v11.9M413.9 247v11.9" stroke="#111" stroke-width="0.8" fill="none"/><rect x="2" y="247" width="411.9" height="11.9" fill="none" stroke="#333" stroke-width="0.9"/><g font-size="16" text-anchor="middle"><text x="28.6" y="275.6">0.1</text><text x="68.4" y="275.6">0.25</text><text x="108.3" y="275.6">0.4</text><text x="148.2" y="275.6">0.55</text><text x="188" y="275.6">0.7</text><text x="227.9" y="275.6">0.85</text><text x="267.7" y="275.6">1</text><text x="307.6" y="275.6">1.15</text><text x="347.5" y="275.6">1.3</text><text x="387.3" y="275.6">1.45</text></g></g>
<g transform="translate(80,383.3)"><g clip-path="url(#clip)"><g filter="url(#cmB)"><rect x="-20" y="-20" width="456.4" height="247.8" fill="rgb(12,12,12)"/><path d="M2.3 49.6 23.1 48.5 46.3 50.8 60.1 57.7 60.1 68.1 34.7 69.3 2.3 68.1Z" fill="rgb(21,21,21)" filter="url(#b3_0)"/><path d="M0 154.7 69.4 154.7 115.7 155.9 121.4 166.2 69.4 166.2 0 165.1Z" fill="rgb(20,20,20)" filter="url(#b3_0)"/><path d="M231.3 144.3 277.6 145.5 323.9 146.6 370.1 147.8 416.4 150.1 416.4 166.2 370.1 166.2 323.9 165.1 277.6 163.9 231.3 161.6Z" fill="rgb(21,21,21)" filter="url(#b3_0)"/><path d="M138.8 138.5 173.5 142 208.2 145.5 231.3 144.3 231.3 159.3 185.1 158.2 144.6 152.4Z" fill="rgb(20,20,20)" filter="url(#b3_0)"/><path d="M358.6 55.4 381.7 55.4 416.4 57.7 416.4 84.3 381.7 85.4 358.6 80.8 351.6 69.3Z" fill="rgb(21,21,21)" filter="url(#b3_5)"/><path d="M171.2 30 194.3 26.6 210.5 30 212.8 52 198.9 60 179.3 62.3 156.1 57.7 150.4 43.9Z" fill="rgb(20,20,20)" filter="url(#b3_5)"/><path d="M92.5 55.4 104.1 54.3 120.3 57.7 124.9 67 118 76.2 101.8 80.8 93.7 75 91.4 65.8Z" fill="rgb(21,21,21)" filter="url(#b3_0)"/><ellipse cx="17.3" cy="127" rx="20.8" ry="5.8" fill="rgb(20,20,20)" filter="url(#b3_0)"/><path d="M208.2 36.9 231.3 32.3 254.5 34.6 277.6 39.3 312.3 42.7 347 43.9 364.3 46.2 364.3 53.1 323.9 50.8 277.6 48.5 242.9 46.2 208.2 46.2Z" fill="rgb(16,16,16)" filter="url(#b3_0)"/><path d="M0 72.7 34.7 72.7 57.8 76.2 71.7 80.8 67.1 88.9 34.7 90 0 88.9Z" fill="rgb(29,29,29)" filter="url(#b3_0)"/><ellipse cx="30.1" cy="83.7" rx="18.5" ry="4.8" fill="rgb(37,37,37)" filter="url(#b2_5)"/><ellipse cx="30.1" cy="83.7" rx="11.6" ry="3" fill="rgb(44,44,44)" filter="url(#b2_0)"/><path d="M2.3 99.3 46.3 99.3 92.5 100.4 113.4 103.9 115.7 117.8 98.3 127 57.8 129.3 17.3 124.7 2.3 115.4Z" fill="rgb(28,28,28)" filter="url(#b3_5)"/><path d="M16.2 101.6 57.8 102.7 98.3 106.2 106.4 114.3 86.7 121.2 46.3 122.4 16.2 115.4Z" fill="rgb(37,37,37)" filter="url(#b3_0)"/><ellipse cx="62.5" cy="112.6" rx="32.4" ry="5.8" transform="rotate(3 62.5 112.6)" fill="rgb(45,45,45)" filter="url(#b2_5)"/><ellipse cx="63.6" cy="113.1" rx="15" ry="3.2" transform="rotate(3 63.6 113.1)" fill="rgb(53,53,53)" filter="url(#b2_0)"/><path d="M156.1 101.6 185.1 99.3 208.2 100.4 222.1 106.2 224.4 120.1 214 131.6 190.8 138.5 159.6 140.8 150.4 133.9 164.2 117.8Z" fill="rgb(28,28,28)" filter="url(#b3_5)"/><path d="M167.7 107.4 190.8 105.1 214 106.2 220.9 113.1 217.5 122.4 196.6 124.7 175.8 120.1Z" fill="rgb(38,38,38)" filter="url(#b3_0)"/><ellipse cx="210.5" cy="115.4" rx="13.9" ry="6.3" transform="rotate(10 210.5 115.4)" fill="rgb(53,53,53)" filter="url(#b2_5)"/><path d="M159.6 106.2 185.1 107.4 214 109.7 219.8 120.1 190.8 123.5 161.9 120.1Z" fill="rgb(30,30,30)" filter="url(#b3_0)"/><path d="M127.2 106.2 144.6 103.9 156.1 107.4 161.9 117.8 156.1 131.6 144.6 138.5 136.5 132.8 129.5 121.2Z" fill="rgb(29,29,29)" filter="url(#b3_0)"/><ellipse cx="141.1" cy="118.9" rx="10.4" ry="9.2" transform="rotate(-30 141.1 118.9)" fill="rgb(39,39,39)" filter="url(#b2_5)"/><ellipse cx="138.8" cy="120.1" rx="5.2" ry="3.5" transform="rotate(-20 138.8 120.1)" fill="rgb(51,51,51)" filter="url(#b1_8)"/><path d="M118 78.5 150.4 72.7 173.5 70.4 190.8 68.1 202.4 80.8 196.6 94.7 173.5 95.8 150.4 93.5 122.6 88.9Z" fill="rgb(30,30,30)" filter="url(#b3_0)"/><path d="M138.8 82 167.7 76.2 187.4 72.7 196.6 85.4 182.8 93.5 156.1 91.2Z" fill="rgb(44,44,44)" filter="url(#b2_8)"/><path d="M185.1 69.3 202.4 62.3 222.1 61.2 242.9 65.8 254.5 71.6 261.4 83.1 256.8 94.7 240.6 100.4 219.8 100.4 198.9 99.3 187.4 92.4Z" fill="rgb(45,45,45)" filter="url(#b3_5)"/><path d="M180.4 76.2 198.9 71.6 219.8 69.3 240.6 70.4 252.2 76.2 252.2 88.9 236 94.7 214 94.7 194.3 93.5 182.8 87.7Z" fill="rgb(61,61,61)" filter="url(#b3_0)"/><ellipse cx="190.8" cy="83.1" rx="15" ry="6.3" transform="rotate(-5 190.8 83.1)" fill="rgb(69,69,69)" filter="url(#b2_2)"/><ellipse cx="217.5" cy="72.7" rx="10.4" ry="4.6" fill="rgb(49,49,49)" filter="url(#b2_5)"/><ellipse cx="233.6" cy="83.1" rx="15" ry="6.3" transform="rotate(-28 233.6 83.1)" fill="rgb(86,86,86)" filter="url(#b2_5)"/><ellipse cx="212.8" cy="83.1" rx="18.5" ry="5.8" transform="rotate(-8 212.8 83.1)" fill="rgb(62,62,62)" filter="url(#b2_5)"/><ellipse cx="201.3" cy="80.8" rx="6.9" ry="3.5" fill="rgb(66,66,66)" filter="url(#b1_8)"/><ellipse cx="215.1" cy="68.1" rx="3.5" ry="2.3" fill="rgb(49,49,49)" filter="url(#b1_4)"/><ellipse cx="236" cy="82" rx="11.6" ry="4.2" transform="rotate(-30 236 82)" fill="rgb(119,119,119)" filter="url(#b1_8)"/><ellipse cx="229.6" cy="87" rx="4.2" ry="3" fill="rgb(136,136,136)" filter="url(#b1_3)"/><ellipse cx="241.7" cy="80.2" rx="4.9" ry="3.2" transform="rotate(-50 241.7 80.2)" fill="rgb(160,160,160)" filter="url(#b1_3)"/><ellipse cx="242.3" cy="80.2" rx="1.9" ry="2.8" transform="rotate(30 242.3 80.2)" fill="rgb(185,185,185)" filter="url(#b0_9)"/><ellipse cx="229" cy="60" rx="18.5" ry="4.6" fill="rgb(28,28,28)" filter="url(#b2_5)"/><path d="M249.8 64.6 263.7 60 277.6 62.3 279.9 73.9 273 83.1 261.4 88.9 254.5 83.1 249.8 73.9Z" fill="rgb(38,38,38)" filter="url(#b3_0)"/><path d="M261.4 48.5 275.3 46.2 289.2 49.6 291.5 60 284.5 69.3 273 71.6 263.7 64.6Z" fill="rgb(44,44,44)" filter="url(#b3_0)"/><ellipse cx="275.3" cy="57.7" rx="8.1" ry="8.1" fill="rgb(59,59,59)" filter="url(#b2_5)"/><ellipse cx="277.6" cy="55.4" rx="3.2" ry="2.8" transform="rotate(-30 277.6 55.4)" fill="rgb(115,115,115)" filter="url(#b1_4)"/><ellipse cx="278.1" cy="55.1" rx="1.6" ry="1.4" transform="rotate(-30 278.1 55.1)" fill="rgb(169,169,169)" filter="url(#b0_8)"/><ellipse cx="260.2" cy="78.5" rx="6.9" ry="8.1" transform="rotate(-20 260.2 78.5)" fill="rgb(39,39,39)" filter="url(#b2_5)"/><path d="M284.5 67 298.4 65.8 312.3 72.7 314.6 80.8 303 90 293.8 90 286.9 78.5Z" fill="rgb(25,25,25)" filter="url(#b3_0)"/><ellipse cx="298.4" cy="72.7" rx="9.3" ry="4" transform="rotate(20 298.4 72.7)" fill="rgb(35,35,35)" filter="url(#b2_2)"/><ellipse cx="310.7" cy="57.7" rx="11" ry="3.2" fill="rgb(51,51,51)" filter="url(#b2_0)"/><ellipse cx="310.6" cy="57.7" rx="5.2" ry="1.6" fill="rgb(63,63,63)" filter="url(#b1_2)"/><ellipse cx="329.6" cy="56.6" rx="5.2" ry="2" fill="rgb(44,44,44)" filter="url(#b1_5)"/><path d="M328.5 55.4 342.4 55.4 351.6 62.3 349.3 73.9 340.1 80.8 330.8 80.8 327.3 69.3Z" fill="rgb(30,30,30)" filter="url(#b3_0)"/><ellipse cx="338.9" cy="65.8" rx="5.8" ry="8.1" fill="rgb(39,39,39)" filter="url(#b2_5)"/><path d="M299.6 61.8 314.6 60 327.3 62.3 328.5 70.4 319.2 72.2 307.7 71 300.7 68.1Z" fill="rgb(2,2,2)" filter="url(#b2_0)"/><path d="M314.6 76.2 333.1 78.5 349.3 83.1 356.3 94.7 353.9 110.8 337.7 114.3 321.6 108.5 315.8 94.7Z" fill="rgb(23,23,23)" filter="url(#b3_0)"/><ellipse cx="338.4" cy="106.3" rx="3.2" ry="2" fill="rgb(51,51,51)" filter="url(#b1_3)"/><path d="M256.8 108.5 283.4 109.7 312.3 110.8 329.6 114.3 328.5 124.7 306.5 128.1 277.6 128.1 259.1 122.4Z" fill="rgb(28,28,28)" filter="url(#b3_0)"/><ellipse cx="289.2" cy="119.5" rx="25.4" ry="4.4" transform="rotate(2 289.2 119.5)" fill="rgb(39,39,39)" filter="url(#b2_3)"/><ellipse cx="282.2" cy="119.5" rx="11.6" ry="2.3" fill="rgb(46,46,46)" filter="url(#b1_8)"/><path d="M217.5 110.8 240.6 113.1 252.2 120.1 249.8 133.9 240.6 143.2 226.7 142 217.5 129.3Z" fill="rgb(33,33,33)" filter="url(#b3_0)"/><ellipse cx="229" cy="132.8" rx="5.8" ry="8.1" fill="rgb(46,46,46)" filter="url(#b2_2)"/><ellipse cx="228.6" cy="135.8" rx="1.9" ry="1.7" fill="rgb(119,119,119)" filter="url(#b0_9)"/><ellipse cx="249.8" cy="136.2" rx="6.9" ry="4.6" fill="rgb(28,28,28)" filter="url(#b2_2)"/><ellipse cx="377.1" cy="138.5" rx="13.9" ry="9.2" fill="rgb(19,19,19)" filter="url(#b3_0)"/><ellipse cx="369" cy="133.9" rx="2.3" ry="1.8" fill="rgb(23,23,23)" filter="url(#b1_4)"/><path d="M-1.2 93.3 34.7 93.7 69.4 93.7 92.5 92.9 108.7 91.2" fill="none" stroke="rgb(2,2,2)" stroke-width="2.8" stroke-linecap="round" stroke-linejoin="round" filter="url(#b1_4)"/><path d="M-1.2 93.5 34.7 94 67.1 94" fill="none" stroke="rgb(0,0,0)" stroke-width="1.6" stroke-linecap="round" stroke-linejoin="round" filter="url(#b0_8)"/><path d="M63.6 90 86.7 87.7 101.8 86.6 111 91.2 106.4 95.8 81 95.8 63.6 95.2Z" fill="rgb(3,3,3)" filter="url(#b2_0)"/><path d="M111 87.7 127.2 84.3 144.6 82" fill="none" stroke="rgb(10,10,10)" stroke-width="2.8" stroke-linecap="round" stroke-linejoin="round" filter="url(#b1_8)"/><ellipse cx="296.1" cy="100.4" rx="20.8" ry="5.8" fill="rgb(12,12,12)" filter="url(#b2_5)"/><ellipse cx="296.1" cy="100.4" rx="16.2" ry="4.4" fill="rgb(2,2,2)" filter="url(#b1_8)"/><path d="M349.3 87.7 370.1 88.9 393.3 89.5 417.6 90 417.6 98.1 393.3 98.1 370.1 97.6 351.6 95.8Z" fill="rgb(11,11,11)" filter="url(#b2_0)"/><path d="M356.3 89.5 381.7 90.6 417.6 91.2 417.6 96.4 381.7 96.4 358.6 95.2Z" fill="rgb(2,2,2)" filter="url(#b1_6)"/><path d="M384 101.6 417.6 102.2 417.6 109.7 399 110.8 384 107.4Z" fill="rgb(7,7,7)" filter="url(#b2_0)"/><path d="M11.6 35.8 46.3 34.6 60.1 43.9 63.6 55.4 69.4 64.6 77.5 68.1 87.9 68.1 92.5 60 101.8 53.1 115.7 50.8 131.9 49.6 144.6 43.9 150.4 34.6 138.8 23.1 69.4 17.3 11.6 20.8Z" fill="rgb(2,2,2)" filter="url(#b2_5)"/><path d="M121.4 142 134.2 143.2 138.8 150.1 134.2 161.6 127.2 168.5 120.3 161.6Z" fill="rgb(3,3,3)" filter="url(#b2_0)"/><ellipse cx="344.1" cy="135.1" rx="4" ry="6.3" fill="rgb(3,3,3)" filter="url(#b1_6)"/><ellipse cx="254.5" cy="107.4" rx="3.5" ry="6.9" fill="rgb(13,13,13)" filter="url(#b2_0)"/><path d="M-1.2 36.4 46.3 35.2 92.5 36.9 138.8 40.4 156.1 34.6 173.5 27.7 196.6 25.4 219.8 24.2 237.1 27.7 248.7 33.5 277.6 35.8 323.9 38.1 358.6 38.1 381.7 36.9 417.6 35.8 417.6 -5.8 -1.2 -5.8Z" fill="rgb(2,2,2)" filter="url(#b2_2)"/><path d="M-1.2 174.1 69.4 174.1 138.8 173.2 208.2 172 277.6 171.4 335.4 171.8 381.7 173.2 417.6 174.1 417.6 213.6 -1.2 213.6Z" fill="rgb(2,2,2)" filter="url(#b2_0)"/></g><rect x="131.3" y="6.9" width="54.4" height="10.4" fill="#d3d3d3" clip-path="url(#grnclip)"/><use href="#coast"/><use href="#bord"/><use href="#mald"/><use href="#thick"/><use href="#thin2"/><use href="#grn" fill="none" stroke="#000" stroke-width="1.1"/><use href="#ant" fill="none" stroke="#000" stroke-width="1.1"/></g><path d="M0 0v-7 M0 207.8v7 M11.6 0v-4 M11.6 207.8v4 M23.1 0v-4 M23.1 207.8v4 M34.7 0v-7 M34.7 207.8v7 M46.3 0v-4 M46.3 207.8v4 M57.8 0v-4 M57.8 207.8v4 M69.4 0v-7 M69.4 207.8v7 M81 0v-4 M81 207.8v4 M92.5 0v-4 M92.5 207.8v4 M104.1 0v-7 M104.1 207.8v7 M115.7 0v-4 M115.7 207.8v4 M127.2 0v-4 M127.2 207.8v4 M138.8 0v-7 M138.8 207.8v7 M150.4 0v-4 M150.4 207.8v4 M161.9 0v-4 M161.9 207.8v4 M173.5 0v-7 M173.5 207.8v7 M185.1 0v-4 M185.1 207.8v4 M196.6 0v-4 M196.6 207.8v4 M208.2 0v-7 M208.2 207.8v7 M219.8 0v-4 M219.8 207.8v4 M231.3 0v-4 M231.3 207.8v4 M242.9 0v-7 M242.9 207.8v7 M254.5 0v-4 M254.5 207.8v4 M266 0v-4 M266 207.8v4 M277.6 0v-7 M277.6 207.8v7 M289.2 0v-4 M289.2 207.8v4 M300.7 0v-4 M300.7 207.8v4 M312.3 0v-7 M312.3 207.8v7 M323.9 0v-4 M323.9 207.8v4 M335.4 0v-4 M335.4 207.8v4 M347 0v-7 M347 207.8v7 M358.6 0v-4 M358.6 207.8v4 M370.1 0v-4 M370.1 207.8v4 M381.7 0v-7 M381.7 207.8v7 M393.3 0v-4 M393.3 207.8v4 M404.8 0v-4 M404.8 207.8v4 M416.4 0v-7 M416.4 207.8v7 M0 0h-7 M416.4 0h7 M0 11.5h-4 M416.4 11.5h4 M0 23.1h-4 M416.4 23.1h4 M0 34.6h-7 M416.4 34.6h7 M0 46.2h-4 M416.4 46.2h4 M0 57.7h-4 M416.4 57.7h4 M0 69.3h-7 M416.4 69.3h7 M0 80.8h-4 M416.4 80.8h4 M0 92.4h-4 M416.4 92.4h4 M0 103.9h-7 M416.4 103.9h7 M0 115.4h-4 M416.4 115.4h4 M0 127h-4 M416.4 127h4 M0 138.5h-7 M416.4 138.5h7 M0 150.1h-4 M416.4 150.1h4 M0 161.6h-4 M416.4 161.6h4 M0 173.2h-7 M416.4 173.2h7 M0 184.7h-4 M416.4 184.7h4 M0 196.3h-4 M416.4 196.3h4 M0 207.8h-7 M416.4 207.8h7 " stroke="#222" stroke-width="1" fill="none"/><rect x="0" y="0" width="416.4" height="207.8" fill="none" stroke="#222" stroke-width="1.1"/><g font-size="13.8" text-anchor="middle"><text x="0" y="236.3">180</text><text x="34.7" y="236.3">150W</text><text x="69.4" y="236.3">120W</text><text x="104.1" y="236.3">90W</text><text x="138.8" y="236.3">60W</text><text x="173.5" y="236.3">30W</text><text x="208.2" y="236.3">0</text><text x="242.9" y="236.3">30E</text><text x="277.6" y="236.3">60E</text><text x="312.3" y="236.3">90E</text><text x="347" y="236.3">120E</text><text x="381.7" y="236.3">150E</text><text x="416.4" y="236.3">180</text></g><g font-size="15.5" text-anchor="end"><text x="-17.5" y="5.6">90N</text><text x="-17.5" y="40.2">60N</text><text x="-17.5" y="74.9">30N</text><text x="-17.5" y="109.5">0</text><text x="-17.5" y="144.1">30S</text><text x="-17.5" y="178.8">60S</text><text x="-17.5" y="213.4">90S</text></g><g font-size="15.5"><text x="0.5" y="-10.3">AOD 550 nm</text><text x="208.2" y="-10.3" text-anchor="middle">CAM-TROPMAM-SON</text><text x="416.4" y="-10.3" text-anchor="end">0.11</text></g><rect x="5" y="166.5" width="33" height="35.5" fill="#fff"/><text x="12" y="190.8" font-size="22">b)</text><rect x="2" y="247.5" width="13.5" height="11.9" fill="#ffffff"/><rect x="15.3" y="247.5" width="13.5" height="11.9" fill="#dcdcff"/><rect x="28.6" y="247.5" width="13.5" height="11.9" fill="#bcbcff"/><rect x="41.9" y="247.5" width="13.5" height="11.9" fill="#9c9cff"/><rect x="55.1" y="247.5" width="13.5" height="11.9" fill="#7c7cff"/><rect x="68.4" y="247.5" width="13.5" height="11.9" fill="#5c5cff"/><rect x="81.7" y="247.5" width="13.5" height="11.9" fill="#3a3aff"/><rect x="95" y="247.5" width="13.5" height="11.9" fill="#1a1aff"/><rect x="108.3" y="247.5" width="13.5" height="11.9" fill="#0000f4"/><rect x="121.6" y="247.5" width="13.5" height="11.9" fill="#0020d0"/><rect x="134.9" y="247.5" width="13.5" height="11.9" fill="#0038b0"/><rect x="148.2" y="247.5" width="13.5" height="11.9" fill="#005090"/><rect x="161.4" y="247.5" width="13.5" height="11.9" fill="#006870"/><rect x="174.7" y="247.5" width="13.5" height="11.9" fill="#008050"/><rect x="188" y="247.5" width="13.5" height="11.9" fill="#009830"/><rect x="201.3" y="247.5" width="13.5" height="11.9" fill="#00ac18"/><rect x="214.6" y="247.5" width="13.5" height="11.9" fill="#28b41c"/><rect x="227.9" y="247.5" width="13.5" height="11.9" fill="#48c018"/><rect x="241.2" y="247.5" width="13.5" height="11.9" fill="#68c810"/><rect x="254.5" y="247.5" width="13.5" height="11.9" fill="#88d810"/><rect x="267.7" y="247.5" width="13.5" height="11.9" fill="#a8e010"/><rect x="281" y="247.5" width="13.5" height="11.9" fill="#c8f010"/><rect x="294.3" y="247.5" width="13.5" height="11.9" fill="#e8f810"/><rect x="307.6" y="247.5" width="13.5" height="11.9" fill="#fff000"/><rect x="320.9" y="247.5" width="13.5" height="11.9" fill="#ffc800"/><rect x="334.2" y="247.5" width="13.5" height="11.9" fill="#ffa400"/><rect x="347.5" y="247.5" width="13.5" height="11.9" fill="#ff8000"/><rect x="360.8" y="247.5" width="13.5" height="11.9" fill="#ff6000"/><rect x="374" y="247.5" width="13.5" height="11.9" fill="#ff4000"/><rect x="387.3" y="247.5" width="13.5" height="11.9" fill="#ff2000"/><rect x="400.6" y="247.5" width="13.5" height="11.9" fill="#ff0000"/><path d="M2 247.5v11.9M15.3 247.5v11.9M28.6 247.5v11.9M41.9 247.5v11.9M55.1 247.5v11.9M68.4 247.5v11.9M81.7 247.5v11.9M95 247.5v11.9M108.3 247.5v11.9M121.6 247.5v11.9M134.9 247.5v11.9M148.2 247.5v11.9M161.4 247.5v11.9M174.7 247.5v11.9M188 247.5v11.9M201.3 247.5v11.9M214.6 247.5v11.9M227.9 247.5v11.9M241.2 247.5v11.9M254.5 247.5v11.9M267.7 247.5v11.9M281 247.5v11.9M294.3 247.5v11.9M307.6 247.5v11.9M320.9 247.5v11.9M334.2 247.5v11.9M347.5 247.5v11.9M360.8 247.5v11.9M374 247.5v11.9M387.3 247.5v11.9M400.6 247.5v11.9M413.9 247.5v11.9" stroke="#111" stroke-width="0.8" fill="none"/><rect x="2" y="247.5" width="411.9" height="11.9" fill="none" stroke="#333" stroke-width="0.9"/><g font-size="16" text-anchor="middle"><text x="28.6" y="276.1">0.1</text><text x="68.4" y="276.1">0.25</text><text x="108.3" y="276.1">0.4</text><text x="148.2" y="276.1">0.55</text><text x="188" y="276.1">0.7</text><text x="227.9" y="276.1">0.85</text><text x="267.7" y="276.1">1</text><text x="307.6" y="276.1">1.15</text><text x="347.5" y="276.1">1.3</text><text x="387.3" y="276.1">1.45</text></g></g>
<g transform="translate(600.2,383.3)"><g clip-path="url(#clip)"><g filter="url(#cmC)"><rect x="-20" y="-20" width="456.4" height="247.8" fill="rgb(122,122,122)"/><path d="M196.6 20.8 254.5 20.8 323.9 18.5 381.7 20.8 417.6 23.1 417.6 53.1 381.7 55.4 364.3 50.8 347 48.5 312.3 48.5 277.6 48.5 242.9 50.8 214 53.1 196.6 48.5Z" fill="rgb(108,108,108)" filter="url(#b2_5)"/><path d="M98.3 23.1 127.2 25.4 141.1 36.9 136.5 46.2 118 46.2 101.8 39.3Z" fill="rgb(108,108,108)" filter="url(#b2_5)"/><path d="M136.5 32.3 161.9 34.6 185.1 30 196.6 34.6 179.3 46.2 150.4 48.5Z" fill="rgb(109,109,109)" filter="url(#b3_0)"/><rect x="-1.2" y="16.7" width="418.7" height="11" fill="rgb(104,104,104)" filter="url(#b2_0)"/><rect x="-1.2" y="16.7" width="70.6" height="9.8" fill="rgb(100,100,100)" filter="url(#b2_0)"/><rect x="277.6" y="16.7" width="140" height="8.7" fill="rgb(99,99,99)" filter="url(#b2_0)"/><path d="M115.7 173.2 131.9 161.6 150.4 152.4 173.5 148.9 208.2 150.1 277.6 152.4 347 154.7 417.6 157 417.6 177.8 115.7 177.8Z" fill="rgb(113,113,113)" filter="url(#b3_5)"/><path d="M-1.2 168.5 69.4 169.7 127.2 166.2 144.6 157 185.1 155.9 231.3 158.2 300.7 160.5 370.1 161.6 417.6 163.9 417.6 178.9 -1.2 178.9Z" fill="rgb(108,108,108)" filter="url(#b2_2)"/><rect x="-1.2" y="169.7" width="418.7" height="10.4" fill="rgb(96,96,96)" filter="url(#b1_8)"/><ellipse cx="32.4" cy="146.6" rx="11.6" ry="2.9" fill="rgb(108,108,108)" filter="url(#b2_0)"/><path d="M-1.2 94.1 34.7 94.1 69.4 94.1 92.5 92.4" fill="none" stroke="rgb(100,100,100)" stroke-width="6.4" stroke-linecap="round" stroke-linejoin="round" filter="url(#b2_0)"/><path d="M67.1 80.8 83.3 78.5 94.8 83.1 106.4 86.6 118 92.4 120.3 101.6 111 106.2 97.2 100.4 78.7 98.1 67.1 94.7Z" fill="rgb(97,97,97)" filter="url(#b3_0)"/><ellipse cx="116.8" cy="98.1" rx="4.6" ry="6.9" fill="rgb(83,83,83)" filter="url(#b2_0)"/><path d="M101.8 76.2 115.7 76.2 136.5 80.8 141.1 90 127.2 93.5 111 92.4 101.8 85.4Z" fill="rgb(104,104,104)" filter="url(#b2_5)"/><path d="M138.8 94.7 161.9 95.8 182.8 95.8 194.3 97" fill="none" stroke="rgb(102,102,102)" stroke-width="5.8" stroke-linecap="round" stroke-linejoin="round" filter="url(#b2_0)"/><path d="M347 73.9 370.1 76.2 393.3 80.8 417.6 85.4 417.6 101.6 393.3 103.9 370.1 101.6 351.6 97Z" fill="rgb(104,104,104)" filter="url(#b3_0)"/><path d="M349.3 87.7 370.1 90 393.3 93.5 417.6 95.2" fill="none" stroke="rgb(95,95,95)" stroke-width="5.8" stroke-linecap="round" stroke-linejoin="round" filter="url(#b2_0)"/><path d="M367.8 106.2 381.7 113.1 393.3 120.1 407.1 129.3" fill="none" stroke="rgb(100,100,100)" stroke-width="5.8" stroke-linecap="round" stroke-linejoin="round" filter="url(#b2_0)"/><ellipse cx="399" cy="77.3" rx="20.8" ry="6.9" fill="rgb(132,132,132)" filter="url(#b3_0)"/><ellipse cx="409.5" cy="103.9" rx="11.6" ry="4" fill="rgb(131,131,131)" filter="url(#b2_5)"/><path d="M-1.2 69.3 34.7 69.3 60.1 73.9 61.3 87.7 34.7 90 -1.2 88.9Z" fill="rgb(133,133,133)" filter="url(#b3_0)"/><ellipse cx="30.1" cy="81.4" rx="23.1" ry="6.9" fill="rgb(145,145,145)" filter="url(#b2_5)"/><ellipse cx="32.4" cy="83.1" rx="11.6" ry="4.2" fill="rgb(156,156,156)" filter="url(#b2_0)"/><path d="M3.5 97 46.3 98.1 92.5 100.4 115.7 106.2 118 124.7 98.3 131.6 57.8 129.3 17.3 122.4 3.5 110.8Z" fill="rgb(133,133,133)" filter="url(#b3_5)"/><path d="M11.6 100.4 52 100.4 92.5 105.1 106.4 113.1 92.5 123.5 52 123.5 13.9 114.3Z" fill="rgb(145,145,145)" filter="url(#b3_0)"/><ellipse cx="67.1" cy="113.1" rx="26.6" ry="6.3" transform="rotate(4 67.1 113.1)" fill="rgb(156,156,156)" filter="url(#b2_5)"/><ellipse cx="78.7" cy="114.3" rx="11.6" ry="3.7" transform="rotate(4 78.7 114.3)" fill="rgb(166,166,166)" filter="url(#b2_0)"/><path d="M155 99.3 173.5 100.4 194.3 113.1 203.6 124.7 196.6 132.8 173.5 131.6 152.7 127 157.3 113.1Z" fill="rgb(133,133,133)" filter="url(#b3_0)"/><ellipse cx="174.7" cy="114.3" rx="15" ry="8.1" transform="rotate(35 174.7 114.3)" fill="rgb(148,148,148)" filter="url(#b2_5)"/><ellipse cx="172.3" cy="112" rx="9.3" ry="6.3" transform="rotate(35 172.3 112)" fill="rgb(159,159,159)" filter="url(#b2_0)"/><ellipse cx="196.6" cy="125.8" rx="15" ry="4.6" transform="rotate(22 196.6 125.8)" fill="rgb(138,138,138)" filter="url(#b2_2)"/><path d="M136.5 77.3 161.9 71.6 187.4 67 194.3 78.5 182.8 88.9 156.1 88.9 138.8 85.4Z" fill="rgb(133,133,133)" filter="url(#b2_8)"/><ellipse cx="166.6" cy="82" rx="11.6" ry="3" transform="rotate(-10 166.6 82)" fill="rgb(145,145,145)" filter="url(#b2_0)"/><path d="M67.1 55.4 92.5 54.3 113.4 55.4 122.6 60 115.7 68.1 97.2 71.6 85.6 69.3 74 65.8Z" fill="rgb(132,132,132)" filter="url(#b2_5)"/><ellipse cx="104.1" cy="57.7" rx="9.3" ry="2.9" fill="rgb(133,133,133)" filter="url(#b2_0)"/><path d="M115.7 94.7 136.5 94.7 152.7 101.6 157.3 113.1 148.1 122.4 131.9 124.7 118 113.1Z" fill="rgb(87,87,87)" filter="url(#b3_0)"/><ellipse cx="141.1" cy="110.8" rx="9.3" ry="6.3" fill="rgb(74,74,74)" filter="url(#b2_5)"/><ellipse cx="144.6" cy="111.4" rx="5.2" ry="3" fill="rgb(56,56,56)" filter="url(#b1_5)"/><ellipse cx="163.1" cy="112" rx="4.6" ry="6.9" fill="rgb(146,146,146)" filter="url(#b2_0)"/><ellipse cx="156.1" cy="127" rx="6.9" ry="8.1" transform="rotate(-35 156.1 127)" fill="rgb(134,134,134)" filter="url(#b2_2)"/><ellipse cx="142.3" cy="127" rx="10.4" ry="10.4" fill="rgb(123,123,123)" filter="url(#b2_5)"/><ellipse cx="126.1" cy="147.8" rx="2.3" ry="5.8" fill="rgb(87,87,87)" filter="url(#b1_6)"/><path d="M187.4 67 208.2 61.2 225.5 63.5 247.5 67 254.5 76.2 254.5 92.4 240.6 97 217.5 93.5 198.9 92.4 187.4 85.4Z" fill="rgb(153,153,153)" filter="url(#b3_0)"/><path d="M201.3 79.7 217.5 78.5 233.6 70.4 247.5 69.3 253.3 80.8 249.8 94.7 233.6 97 208.2 94.7 198.9 90Z" fill="rgb(183,183,183)" filter="url(#b2_5)"/><path d="M225.5 88.9 234.8 72.7 246.4 70.4 251.6 80.8 248.7 94.7 233.6 95.8Z" fill="rgb(234,234,234)" filter="url(#b1_8)"/><ellipse cx="218.6" cy="65.8" rx="2.3" ry="1.8" fill="rgb(180,180,180)" filter="url(#b1_2)"/><ellipse cx="198.9" cy="76.2" rx="8.1" ry="5.8" fill="rgb(133,133,133)" filter="url(#b2_5)"/><ellipse cx="223.2" cy="86" rx="4.2" ry="2.3" fill="rgb(64,64,64)" filter="url(#b0_8)"/><ellipse cx="197.8" cy="94.7" rx="6.9" ry="4" transform="rotate(20 197.8 94.7)" fill="rgb(81,81,81)" filter="url(#b2_0)"/><path d="M201.3 99.3 219.8 97 242.9 99.3 247.5 108.5 245.2 120.1 231.3 123.5 217.5 123.5 210.5 113.1 198.9 106.2Z" fill="rgb(74,74,74)" filter="url(#b3_0)"/><ellipse cx="217.5" cy="115.4" rx="5.8" ry="6.9" fill="rgb(42,42,42)" filter="url(#b2_2)"/><ellipse cx="233.6" cy="109.7" rx="6.9" ry="5.2" fill="rgb(49,49,49)" filter="url(#b2_2)"/><ellipse cx="205.9" cy="106.2" rx="9.3" ry="4.6" transform="rotate(30 205.9 106.2)" fill="rgb(70,70,70)" filter="url(#b2_5)"/><path d="M222.1 120.1 233.6 122.4 242.9 129.3 242.9 138.5 233.6 143.2 226.7 138.5 222.1 129.3Z" fill="rgb(168,168,168)" filter="url(#b2_2)"/><ellipse cx="228.4" cy="131.6" rx="4" ry="6.9" transform="rotate(-10 228.4 131.6)" fill="rgb(214,214,214)" filter="url(#b1_6)"/><ellipse cx="249.8" cy="138.5" rx="6.9" ry="3.5" transform="rotate(20 249.8 138.5)" fill="rgb(134,134,134)" filter="url(#b2_0)"/><ellipse cx="254.5" cy="84.3" rx="2.9" ry="6.9" transform="rotate(-25 254.5 84.3)" fill="rgb(90,90,90)" filter="url(#b1_8)"/><ellipse cx="261.4" cy="94.7" rx="5.8" ry="5.8" fill="rgb(102,102,102)" filter="url(#b2_0)"/><ellipse cx="263.7" cy="76.2" rx="8.1" ry="6.9" fill="rgb(121,121,121)" filter="url(#b2_5)"/><path d="M260.2 50.8 275.3 47.3 290.3 49.6 292.6 60 285.7 70.4 273 72.7 262.6 65.8Z" fill="rgb(160,160,160)" filter="url(#b2_5)"/><ellipse cx="278.8" cy="58.9" rx="8.1" ry="5.8" transform="rotate(-10 278.8 58.9)" fill="rgb(203,203,203)" filter="url(#b2_0)"/><ellipse cx="279.9" cy="57.1" rx="4.6" ry="3.2" transform="rotate(-10 279.9 57.1)" fill="rgb(232,232,232)" filter="url(#b1_3)"/><ellipse cx="277.6" cy="51.7" rx="1.4" ry="1.2" fill="rgb(46,46,46)" filter="url(#b0_8)"/><path d="M256.8 87.7 266 85.4 275.3 76.2 284.5 72.7 291.5 62.3 300.7 65.8 312.3 71.6 321.6 76.2 321.6 92.4 312.3 101.6 296.1 103.9 277.6 101.6 266 94.7Z" fill="rgb(86,86,86)" filter="url(#b3_0)"/><path d="M282.2 76.2 289.2 65.8 298.4 68.1 310 73.9 314.6 78.5 311.1 90 300.7 95.8 290.3 91.2 284.5 83.1Z" fill="rgb(67,67,67)" filter="url(#b2_5)"/><path d="M291.5 68.1 298.4 71.6 305.4 74.5 312.3 77.3" fill="none" stroke="rgb(42,42,42)" stroke-width="3.5" stroke-linecap="round" stroke-linejoin="round" filter="url(#b1_6)"/><ellipse cx="298.4" cy="84.3" rx="3.5" ry="5.8" fill="rgb(81,81,81)" filter="url(#b1_8)"/><ellipse cx="314.6" cy="57.7" rx="15" ry="3" transform="rotate(-3 314.6 57.7)" fill="rgb(156,156,156)" filter="url(#b2_0)"/><ellipse cx="310" cy="57.7" rx="5.8" ry="1.7" transform="rotate(-3 310 57.7)" fill="rgb(191,191,191)" filter="url(#b1_3)"/><ellipse cx="329.6" cy="56" rx="3.5" ry="1.2" fill="rgb(162,162,162)" filter="url(#b1_0)"/><ellipse cx="312.3" cy="67" rx="9.3" ry="2.9" fill="rgb(121,121,121)" filter="url(#b2_0)"/><path d="M325 60 337.7 52 353.9 48.5 357.4 57.7 350.5 71.6 343.5 79.7 332 82 325 72.7Z" fill="rgb(76,76,76)" filter="url(#b3_0)"/><path d="M330.8 62.3 340.1 56.6 349.3 56.6 348.2 68.1 341.2 76.2 334.3 76.2 329.6 69.3Z" fill="rgb(42,42,42)" filter="url(#b2_2)"/><ellipse cx="352.8" cy="52" rx="4.6" ry="3.5" transform="rotate(-40 352.8 52)" fill="rgb(58,58,58)" filter="url(#b1_8)"/><path d="M314.6 76.2 333.1 78.5 349.3 80.8 358.6 94.7 363.2 108.5 351.6 115.4 330.8 115.4 319.2 106.2 314.6 94.7Z" fill="rgb(86,86,86)" filter="url(#b3_0)"/><ellipse cx="326.2" cy="103.9" rx="4.6" ry="4.6" transform="rotate(40 326.2 103.9)" fill="rgb(65,65,65)" filter="url(#b2_0)"/><ellipse cx="338.9" cy="105.1" rx="5.2" ry="3.5" fill="rgb(65,65,65)" filter="url(#b2_0)"/><ellipse cx="328.5" cy="87.7" rx="5.8" ry="5.8" fill="rgb(70,70,70)" filter="url(#b2_2)"/><ellipse cx="348.2" cy="87.7" rx="2.9" ry="5.8" fill="rgb(63,63,63)" filter="url(#b1_8)"/><path d="M261.4 112 289.2 110.8 314.6 113.1 328.5 117.8 323.9 127 298.4 130.5 271.8 129.3 261.4 120.1Z" fill="rgb(133,133,133)" filter="url(#b3_0)"/><ellipse cx="292.6" cy="120.1" rx="22" ry="5.2" transform="rotate(2 292.6 120.1)" fill="rgb(145,145,145)" filter="url(#b2_3)"/><ellipse cx="291.5" cy="120.6" rx="15" ry="3.1" transform="rotate(2 291.5 120.6)" fill="rgb(156,156,156)" filter="url(#b1_8)"/><path d="M340.1 129.3 349.3 124.7 358.6 121.2 367.8 123.5 373.6 121.2 378.2 127 384 133.9 384 140.8 379.4 146.6 371.3 146.6 364.3 142 352.8 141.4 342.4 142.6Z" fill="rgb(133,133,133)" filter="url(#b2_0)"/><ellipse cx="358.6" cy="129.3" rx="5.8" ry="3.5" fill="rgb(145,145,145)" filter="url(#b1_8)"/><ellipse cx="370.1" cy="135.1" rx="9.3" ry="5.8" fill="rgb(133,133,133)" filter="url(#b2_0)"/><ellipse cx="360.9" cy="116.6" rx="13.9" ry="2.9" fill="rgb(100,100,100)" filter="url(#b2_0)"/><ellipse cx="229" cy="62.3" rx="16.2" ry="2.9" fill="rgb(126,126,126)" filter="url(#b2_0)"/></g><path d="M-1.2 181.2 34.7 183 69.4 183.6 104.1 181.2 127.2 178.9 150.4 177.2 185.1 175.5 208.2 175.5 242.9 176.1 266 176.6 277.6 180.1 323.9 180.1 370.1 180.1 381.7 178.4 417.6 180.1 417.6 213.6 -1.2 213.6Z" fill="#fff" filter="url(#rough)"/><path d="M-1.2 17 417.6 17 417.6 -5.8 -1.2 -5.8Z" fill="#fff" filter="url(#rough)"/><use href="#grn" fill="#d3d3d3"/><use href="#ant" fill="#d3d3d3"/><path d="M65.9 27.1 70.6 26.6 71.7 27.9 68.2 28.6Z" fill="#d3d3d3"/><path d="M73.4 33.1 77.5 31.6 80.4 31.9 76.9 33.1Z" fill="#d3d3d3"/><path d="M89.1 36.4 91.4 35.8 92 37.2 89.6 37.5Z" fill="#d3d3d3"/><path d="M120.3 38.7 124.9 38.1 126.7 41 122.6 41.6Z" fill="#d3d3d3"/><path d="M93.7 30 97.2 29.7 96.6 30.9Z" fill="#d3d3d3"/><use href="#coast"/><use href="#bord"/><use href="#mald"/><use href="#thick"/><use href="#thin2"/><use href="#grn" fill="none" stroke="#000" stroke-width="1.1"/><use href="#ant" fill="none" stroke="#000" stroke-width="1.1"/></g><path d="M0 0v-7 M0 207.8v7 M11.6 0v-4 M11.6 207.8v4 M23.1 0v-4 M23.1 207.8v4 M34.7 0v-7 M34.7 207.8v7 M46.3 0v-4 M46.3 207.8v4 M57.8 0v-4 M57.8 207.8v4 M69.4 0v-7 M69.4 207.8v7 M81 0v-4 M81 207.8v4 M92.5 0v-4 M92.5 207.8v4 M104.1 0v-7 M104.1 207.8v7 M115.7 0v-4 M115.7 207.8v4 M127.2 0v-4 M127.2 207.8v4 M138.8 0v-7 M138.8 207.8v7 M150.4 0v-4 M150.4 207.8v4 M161.9 0v-4 M161.9 207.8v4 M173.5 0v-7 M173.5 207.8v7 M185.1 0v-4 M185.1 207.8v4 M196.6 0v-4 M196.6 207.8v4 M208.2 0v-7 M208.2 207.8v7 M219.8 0v-4 M219.8 207.8v4 M231.3 0v-4 M231.3 207.8v4 M242.9 0v-7 M242.9 207.8v7 M254.5 0v-4 M254.5 207.8v4 M266 0v-4 M266 207.8v4 M277.6 0v-7 M277.6 207.8v7 M289.2 0v-4 M289.2 207.8v4 M300.7 0v-4 M300.7 207.8v4 M312.3 0v-7 M312.3 207.8v7 M323.9 0v-4 M323.9 207.8v4 M335.4 0v-4 M335.4 207.8v4 M347 0v-7 M347 207.8v7 M358.6 0v-4 M358.6 207.8v4 M370.1 0v-4 M370.1 207.8v4 M381.7 0v-7 M381.7 207.8v7 M393.3 0v-4 M393.3 207.8v4 M404.8 0v-4 M404.8 207.8v4 M416.4 0v-7 M416.4 207.8v7 M0 0h-7 M416.4 0h7 M0 11.5h-4 M416.4 11.5h4 M0 23.1h-4 M416.4 23.1h4 M0 34.6h-7 M416.4 34.6h7 M0 46.2h-4 M416.4 46.2h4 M0 57.7h-4 M416.4 57.7h4 M0 69.3h-7 M416.4 69.3h7 M0 80.8h-4 M416.4 80.8h4 M0 92.4h-4 M416.4 92.4h4 M0 103.9h-7 M416.4 103.9h7 M0 115.4h-4 M416.4 115.4h4 M0 127h-4 M416.4 127h4 M0 138.5h-7 M416.4 138.5h7 M0 150.1h-4 M416.4 150.1h4 M0 161.6h-4 M416.4 161.6h4 M0 173.2h-7 M416.4 173.2h7 M0 184.7h-4 M416.4 184.7h4 M0 196.3h-4 M416.4 196.3h4 M0 207.8h-7 M416.4 207.8h7 " stroke="#222" stroke-width="1" fill="none"/><rect x="0" y="0" width="416.4" height="207.8" fill="none" stroke="#222" stroke-width="1.1"/><g font-size="13.8" text-anchor="middle"><text x="0" y="236.3">180</text><text x="34.7" y="236.3">150W</text><text x="69.4" y="236.3">120W</text><text x="104.1" y="236.3">90W</text><text x="138.8" y="236.3">60W</text><text x="173.5" y="236.3">30W</text><text x="208.2" y="236.3">0</text><text x="242.9" y="236.3">30E</text><text x="277.6" y="236.3">60E</text><text x="312.3" y="236.3">90E</text><text x="347" y="236.3">120E</text><text x="381.7" y="236.3">150E</text><text x="416.4" y="236.3">180</text></g><g font-size="15.5" text-anchor="end"><text x="-17.5" y="5.6">90N</text><text x="-17.5" y="40.2">60N</text><text x="-17.5" y="74.9">30N</text><text x="-17.5" y="109.5">0</text><text x="-17.5" y="144.1">30S</text><text x="-17.5" y="178.8">60S</text><text x="-17.5" y="213.4">90S</text></g><g font-size="15.5"><text x="208.2" y="-10.3" text-anchor="middle">Difference</text></g><rect x="5" y="166.5" width="33" height="35.5" fill="#fff"/><text x="12" y="190.8" font-size="22">c)</text><rect x="2" y="247.5" width="18.9" height="11.9" fill="#00008c"/><rect x="20.7" y="247.5" width="18.9" height="11.9" fill="#0000a4"/><rect x="39.4" y="247.5" width="18.9" height="11.9" fill="#0000b8"/><rect x="58.2" y="247.5" width="18.9" height="11.9" fill="#0000cc"/><rect x="76.9" y="247.5" width="18.9" height="11.9" fill="#0000e4"/><rect x="95.6" y="247.5" width="18.9" height="11.9" fill="#0000ff"/><rect x="114.3" y="247.5" width="18.9" height="11.9" fill="#3030ff"/><rect x="133.1" y="247.5" width="18.9" height="11.9" fill="#5858fa"/><rect x="151.8" y="247.5" width="18.9" height="11.9" fill="#8888f8"/><rect x="170.5" y="247.5" width="18.9" height="11.9" fill="#b8b8f8"/><rect x="189.2" y="247.5" width="18.9" height="11.9" fill="#e8e8ff"/><rect x="207.9" y="247.5" width="18.9" height="11.9" fill="#ffe8e8"/><rect x="226.7" y="247.5" width="18.9" height="11.9" fill="#ffb8b8"/><rect x="245.4" y="247.5" width="18.9" height="11.9" fill="#ff8888"/><rect x="264.1" y="247.5" width="18.9" height="11.9" fill="#ff5858"/><rect x="282.8" y="247.5" width="18.9" height="11.9" fill="#ff3030"/><rect x="301.6" y="247.5" width="18.9" height="11.9" fill="#ff0000"/><rect x="320.3" y="247.5" width="18.9" height="11.9" fill="#e00000"/><rect x="339" y="247.5" width="18.9" height="11.9" fill="#c80000"/><rect x="357.7" y="247.5" width="18.9" height="11.9" fill="#b40000"/><rect x="376.5" y="247.5" width="18.9" height="11.9" fill="#a00000"/><rect x="395.2" y="247.5" width="18.9" height="11.9" fill="#880000"/><path d="M2 247.5v11.9M20.7 247.5v11.9M39.4 247.5v11.9M58.2 247.5v11.9M76.9 247.5v11.9M95.6 247.5v11.9M114.3 247.5v11.9M133.1 247.5v11.9M151.8 247.5v11.9M170.5 247.5v11.9M189.2 247.5v11.9M207.9 247.5v11.9M226.7 247.5v11.9M245.4 247.5v11.9M264.1 247.5v11.9M282.8 247.5v11.9M301.6 247.5v11.9M320.3 247.5v11.9M339 247.5v11.9M357.7 247.5v11.9M376.5 247.5v11.9M395.2 247.5v11.9M413.9 247.5v11.9" stroke="#111" stroke-width="0.8" fill="none"/><rect x="2" y="247.5" width="411.9" height="11.9" fill="none" stroke="#333" stroke-width="0.9"/><g font-size="16" text-anchor="middle"><text x="20.7" y="276.1">-0.5</text><text x="58.2" y="276.1">-0.4</text><text x="95.6" y="276.1">-0.3</text><text x="133.1" y="276.1">-0.2</text><text x="170.5" y="276.1">-0.1</text><text x="207.9" y="276.1">0</text><text x="245.4" y="276.1">0.1</text><text x="282.8" y="276.1">0.2</text><text x="320.3" y="276.1">0.3</text><text x="357.7" y="276.1">0.4</text><text x="395.2" y="276.1">0.5</text></g></g>
<g transform="translate(80,718.6)"><g clip-path="url(#clip)"><g filter="url(#cmD)"><rect x="-20" y="-20" width="456.4" height="247.8" fill="rgb(12,12,12)"/><path d="M2.3 49.6 23.1 48.5 46.3 50.8 60.1 57.7 60.1 68.1 34.7 69.3 2.3 68.1Z" fill="rgb(21,21,21)" filter="url(#b3_0)"/><path d="M0 154.7 69.4 154.7 115.7 155.9 121.4 166.2 69.4 166.2 0 165.1Z" fill="rgb(20,20,20)" filter="url(#b3_0)"/><path d="M231.3 144.3 277.6 145.5 323.9 146.6 370.1 147.8 416.4 150.1 416.4 166.2 370.1 166.2 323.9 165.1 277.6 163.9 231.3 161.6Z" fill="rgb(21,21,21)" filter="url(#b3_0)"/><path d="M138.8 138.5 173.5 142 208.2 145.5 231.3 144.3 231.3 159.3 185.1 158.2 144.6 152.4Z" fill="rgb(20,20,20)" filter="url(#b3_0)"/><path d="M358.6 55.4 381.7 55.4 416.4 57.7 416.4 84.3 381.7 85.4 358.6 80.8 351.6 69.3Z" fill="rgb(21,21,21)" filter="url(#b3_5)"/><path d="M171.2 30 194.3 26.6 210.5 30 212.8 52 198.9 60 179.3 62.3 156.1 57.7 150.4 43.9Z" fill="rgb(20,20,20)" filter="url(#b3_5)"/><path d="M92.5 55.4 104.1 54.3 120.3 57.7 124.9 67 118 76.2 101.8 80.8 93.7 75 91.4 65.8Z" fill="rgb(21,21,21)" filter="url(#b3_0)"/><ellipse cx="17.3" cy="127" rx="20.8" ry="5.8" fill="rgb(20,20,20)" filter="url(#b3_0)"/><path d="M208.2 36.9 231.3 32.3 254.5 34.6 277.6 39.3 312.3 42.7 347 43.9 364.3 46.2 364.3 53.1 323.9 50.8 277.6 48.5 242.9 46.2 208.2 46.2Z" fill="rgb(16,16,16)" filter="url(#b3_0)"/><path d="M0 72.7 34.7 72.7 57.8 76.2 71.7 80.8 67.1 88.9 34.7 90 0 88.9Z" fill="rgb(29,29,29)" filter="url(#b3_0)"/><ellipse cx="30.1" cy="83.7" rx="18.5" ry="4.8" fill="rgb(37,37,37)" filter="url(#b2_5)"/><ellipse cx="30.1" cy="83.7" rx="11.6" ry="3" fill="rgb(44,44,44)" filter="url(#b2_0)"/><path d="M2.3 99.3 46.3 99.3 92.5 100.4 113.4 103.9 115.7 117.8 98.3 127 57.8 129.3 17.3 124.7 2.3 115.4Z" fill="rgb(28,28,28)" filter="url(#b3_5)"/><path d="M16.2 101.6 57.8 102.7 98.3 106.2 106.4 114.3 86.7 121.2 46.3 122.4 16.2 115.4Z" fill="rgb(37,37,37)" filter="url(#b3_0)"/><ellipse cx="62.5" cy="112.6" rx="32.4" ry="5.8" transform="rotate(3 62.5 112.6)" fill="rgb(45,45,45)" filter="url(#b2_5)"/><ellipse cx="63.6" cy="113.1" rx="15" ry="3.2" transform="rotate(3 63.6 113.1)" fill="rgb(53,53,53)" filter="url(#b2_0)"/><path d="M156.1 101.6 185.1 99.3 208.2 100.4 222.1 106.2 224.4 120.1 214 131.6 190.8 138.5 159.6 140.8 150.4 133.9 164.2 117.8Z" fill="rgb(28,28,28)" filter="url(#b3_5)"/><path d="M167.7 107.4 190.8 105.1 214 106.2 220.9 113.1 217.5 122.4 196.6 124.7 175.8 120.1Z" fill="rgb(44,44,44)" filter="url(#b3_0)"/><ellipse cx="210.5" cy="115.4" rx="13.9" ry="6.3" transform="rotate(10 210.5 115.4)" fill="rgb(61,61,61)" filter="url(#b2_5)"/><path d="M159.6 106.2 185.1 107.4 214 109.7 219.8 120.1 190.8 123.5 161.9 120.1Z" fill="rgb(46,46,46)" filter="url(#b3_0)"/><path d="M127.2 106.2 144.6 103.9 156.1 107.4 161.9 117.8 156.1 131.6 144.6 138.5 136.5 132.8 129.5 121.2Z" fill="rgb(29,29,29)" filter="url(#b3_0)"/><ellipse cx="141.1" cy="118.9" rx="13.9" ry="9.2" transform="rotate(-30 141.1 118.9)" fill="rgb(49,49,49)" filter="url(#b2_5)"/><ellipse cx="138.8" cy="120.1" rx="8.7" ry="4.6" transform="rotate(-20 138.8 120.1)" fill="rgb(59,59,59)" filter="url(#b1_8)"/><path d="M118 78.5 150.4 72.7 173.5 70.4 190.8 68.1 202.4 80.8 196.6 94.7 173.5 95.8 150.4 93.5 122.6 88.9Z" fill="rgb(35,35,35)" filter="url(#b3_0)"/><path d="M138.8 82 167.7 76.2 187.4 72.7 196.6 85.4 182.8 93.5 156.1 91.2Z" fill="rgb(56,56,56)" filter="url(#b2_8)"/><path d="M185.1 69.3 202.4 62.3 222.1 61.2 242.9 65.8 254.5 71.6 261.4 83.1 256.8 94.7 240.6 100.4 219.8 100.4 198.9 99.3 187.4 92.4Z" fill="rgb(45,45,45)" filter="url(#b3_5)"/><path d="M180.4 76.2 198.9 71.6 219.8 69.3 240.6 70.4 252.2 76.2 252.2 88.9 236 94.7 214 94.7 194.3 93.5 182.8 87.7Z" fill="rgb(74,74,74)" filter="url(#b3_0)"/><ellipse cx="190.8" cy="83.1" rx="15" ry="6.3" transform="rotate(-5 190.8 83.1)" fill="rgb(74,74,74)" filter="url(#b2_2)"/><ellipse cx="217.5" cy="72.7" rx="10.4" ry="4.6" fill="rgb(49,49,49)" filter="url(#b2_5)"/><ellipse cx="233.6" cy="83.1" rx="15" ry="6.3" transform="rotate(-28 233.6 83.1)" fill="rgb(111,111,111)" filter="url(#b2_5)"/><ellipse cx="212.8" cy="83.1" rx="18.5" ry="5.8" transform="rotate(-8 212.8 83.1)" fill="rgb(107,107,107)" filter="url(#b2_5)"/><ellipse cx="201.3" cy="80.8" rx="6.9" ry="3.5" fill="rgb(123,123,123)" filter="url(#b1_8)"/><ellipse cx="215.1" cy="68.1" rx="3.5" ry="2.3" fill="rgb(123,123,123)" filter="url(#b1_4)"/><ellipse cx="236" cy="82" rx="11.6" ry="4.2" transform="rotate(-30 236 82)" fill="rgb(140,140,140)" filter="url(#b1_8)"/><ellipse cx="229.6" cy="87" rx="4.2" ry="3" fill="rgb(148,148,148)" filter="url(#b1_3)"/><ellipse cx="241.7" cy="80.2" rx="4.9" ry="3.2" transform="rotate(-50 241.7 80.2)" fill="rgb(185,185,185)" filter="url(#b1_3)"/><ellipse cx="242.3" cy="80.2" rx="1.9" ry="2.8" transform="rotate(30 242.3 80.2)" fill="rgb(243,243,243)" filter="url(#b0_9)"/><ellipse cx="229" cy="60" rx="18.5" ry="4.6" fill="rgb(28,28,28)" filter="url(#b2_5)"/><path d="M249.8 64.6 263.7 60 277.6 62.3 279.9 73.9 273 83.1 261.4 88.9 254.5 83.1 249.8 73.9Z" fill="rgb(38,38,38)" filter="url(#b3_0)"/><path d="M261.4 48.5 275.3 46.2 289.2 49.6 291.5 60 284.5 69.3 273 71.6 263.7 64.6Z" fill="rgb(44,44,44)" filter="url(#b3_0)"/><ellipse cx="275.3" cy="57.7" rx="10.4" ry="8.1" fill="rgb(76,76,76)" filter="url(#b2_5)"/><ellipse cx="277.6" cy="55.4" rx="6.7" ry="4.6" transform="rotate(-30 277.6 55.4)" fill="rgb(140,140,140)" filter="url(#b1_4)"/><ellipse cx="278.1" cy="55.1" rx="2.3" ry="1.8" transform="rotate(-30 278.1 55.1)" fill="rgb(226,226,226)" filter="url(#b0_8)"/><ellipse cx="260.2" cy="78.5" rx="6.9" ry="8.1" transform="rotate(-20 260.2 78.5)" fill="rgb(39,39,39)" filter="url(#b2_5)"/><path d="M284.5 67 298.4 65.8 312.3 72.7 314.6 80.8 303 90 293.8 90 286.9 78.5Z" fill="rgb(25,25,25)" filter="url(#b3_0)"/><ellipse cx="298.4" cy="72.7" rx="9.3" ry="4" transform="rotate(20 298.4 72.7)" fill="rgb(35,35,35)" filter="url(#b2_2)"/><ellipse cx="310.7" cy="57.7" rx="11" ry="3.2" fill="rgb(59,59,59)" filter="url(#b2_0)"/><ellipse cx="310.6" cy="57.7" rx="5.2" ry="2.1" fill="rgb(137,137,137)" filter="url(#b1_2)"/><ellipse cx="329.6" cy="56.6" rx="5.2" ry="2" fill="rgb(61,61,61)" filter="url(#b1_5)"/><path d="M328.5 55.4 342.4 55.4 351.6 62.3 349.3 73.9 340.1 80.8 330.8 80.8 327.3 69.3Z" fill="rgb(30,30,30)" filter="url(#b3_0)"/><ellipse cx="338.9" cy="65.8" rx="5.8" ry="8.1" fill="rgb(39,39,39)" filter="url(#b2_5)"/><path d="M299.6 61.8 314.6 60 327.3 62.3 328.5 70.4 319.2 72.2 307.7 71 300.7 68.1Z" fill="rgb(2,2,2)" filter="url(#b2_0)"/><path d="M314.6 76.2 333.1 78.5 349.3 83.1 356.3 94.7 353.9 110.8 337.7 114.3 321.6 108.5 315.8 94.7Z" fill="rgb(23,23,23)" filter="url(#b3_0)"/><ellipse cx="338.4" cy="106.3" rx="3.2" ry="2" fill="rgb(51,51,51)" filter="url(#b1_3)"/><path d="M256.8 108.5 283.4 109.7 312.3 110.8 329.6 114.3 328.5 124.7 306.5 128.1 277.6 128.1 259.1 122.4Z" fill="rgb(28,28,28)" filter="url(#b3_0)"/><ellipse cx="289.2" cy="119.5" rx="28.9" ry="5.1" transform="rotate(2 289.2 119.5)" fill="rgb(46,46,46)" filter="url(#b2_3)"/><ellipse cx="282.2" cy="119.5" rx="18.5" ry="2.8" fill="rgb(52,52,52)" filter="url(#b1_8)"/><path d="M217.5 110.8 240.6 113.1 252.2 120.1 249.8 133.9 240.6 143.2 226.7 142 217.5 129.3Z" fill="rgb(46,46,46)" filter="url(#b3_0)"/><ellipse cx="229" cy="132.8" rx="5.8" ry="8.1" fill="rgb(58,58,58)" filter="url(#b2_2)"/><ellipse cx="228.6" cy="135.8" rx="2.4" ry="2.3" fill="rgb(169,169,169)" filter="url(#b0_9)"/><ellipse cx="249.8" cy="136.2" rx="6.9" ry="4.6" fill="rgb(28,28,28)" filter="url(#b2_2)"/><ellipse cx="370.1" cy="135.1" rx="18.5" ry="9.2" fill="rgb(24,24,24)" filter="url(#b3_0)"/><ellipse cx="369" cy="133.9" rx="3.5" ry="3" fill="rgb(36,36,36)" filter="url(#b1_4)"/><path d="M-1.2 93.3 34.7 93.7 69.4 93.7 92.5 92.9 108.7 91.2" fill="none" stroke="rgb(9,9,9)" stroke-width="2.1" stroke-linecap="round" stroke-linejoin="round" filter="url(#b1_4)"/><path d="M-1.2 93.5 34.7 94 67.1 94" fill="none" stroke="rgb(2,2,2)" stroke-width="1.2" stroke-linecap="round" stroke-linejoin="round" filter="url(#b0_8)"/><path d="M63.6 90 86.7 87.7 101.8 86.6 111 91.2 106.4 95.8 81 95.8 63.6 95.2Z" fill="rgb(11,11,11)" filter="url(#b2_0)"/><path d="M111 87.7 127.2 84.3 144.6 82" fill="none" stroke="rgb(10,10,10)" stroke-width="2.8" stroke-linecap="round" stroke-linejoin="round" filter="url(#b1_8)"/><ellipse cx="296.1" cy="100.4" rx="20.8" ry="5.8" fill="rgb(12,12,12)" filter="url(#b2_5)"/><ellipse cx="296.1" cy="100.4" rx="16.2" ry="4.4" fill="rgb(2,2,2)" filter="url(#b1_8)"/><path d="M349.3 87.7 370.1 88.9 393.3 89.5 417.6 90 417.6 98.1 393.3 98.1 370.1 97.6 351.6 95.8Z" fill="rgb(11,11,11)" filter="url(#b2_0)"/><path d="M356.3 89.5 381.7 90.6 417.6 91.2 417.6 96.4 381.7 96.4 358.6 95.2Z" fill="rgb(2,2,2)" filter="url(#b1_6)"/><path d="M384 101.6 417.6 102.2 417.6 109.7 399 110.8 384 107.4Z" fill="rgb(7,7,7)" filter="url(#b2_0)"/><path d="M11.6 35.8 46.3 34.6 60.1 43.9 63.6 55.4 69.4 64.6 77.5 68.1 87.9 68.1 92.5 60 101.8 53.1 115.7 50.8 131.9 49.6 144.6 43.9 150.4 34.6 138.8 23.1 69.4 17.3 11.6 20.8Z" fill="rgb(2,2,2)" filter="url(#b2_5)"/><path d="M121.4 142 134.2 143.2 138.8 150.1 134.2 161.6 127.2 168.5 120.3 161.6Z" fill="rgb(3,3,3)" filter="url(#b2_0)"/><ellipse cx="344.1" cy="135.1" rx="4" ry="6.3" fill="rgb(3,3,3)" filter="url(#b1_6)"/><ellipse cx="254.5" cy="107.4" rx="3.5" ry="6.9" fill="rgb(13,13,13)" filter="url(#b2_0)"/><path d="M-1.2 36.4 46.3 35.2 92.5 36.9 138.8 40.4 156.1 34.6 173.5 27.7 196.6 25.4 219.8 24.2 237.1 27.7 248.7 33.5 277.6 35.8 323.9 38.1 358.6 38.1 381.7 36.9 417.6 35.8 417.6 -5.8 -1.2 -5.8Z" fill="rgb(2,2,2)" filter="url(#b2_2)"/><path d="M-1.2 174.1 69.4 174.1 138.8 173.2 208.2 172 277.6 171.4 335.4 171.8 381.7 173.2 417.6 174.1 417.6 213.6 -1.2 213.6Z" fill="rgb(2,2,2)" filter="url(#b2_0)"/></g><rect x="131.3" y="6.9" width="54.4" height="10.4" fill="#d3d3d3" clip-path="url(#grnclip)"/><use href="#coast"/><use href="#bord"/><use href="#mald"/><use href="#thick"/><use href="#thin2"/><use href="#grn" fill="none" stroke="#000" stroke-width="1.1"/><use href="#ant" fill="none" stroke="#000" stroke-width="1.1"/></g><path d="M0 0v-7 M0 207.8v7 M11.6 0v-4 M11.6 207.8v4 M23.1 0v-4 M23.1 207.8v4 M34.7 0v-7 M34.7 207.8v7 M46.3 0v-4 M46.3 207.8v4 M57.8 0v-4 M57.8 207.8v4 M69.4 0v-7 M69.4 207.8v7 M81 0v-4 M81 207.8v4 M92.5 0v-4 M92.5 207.8v4 M104.1 0v-7 M104.1 207.8v7 M115.7 0v-4 M115.7 207.8v4 M127.2 0v-4 M127.2 207.8v4 M138.8 0v-7 M138.8 207.8v7 M150.4 0v-4 M150.4 207.8v4 M161.9 0v-4 M161.9 207.8v4 M173.5 0v-7 M173.5 207.8v7 M185.1 0v-4 M185.1 207.8v4 M196.6 0v-4 M196.6 207.8v4 M208.2 0v-7 M208.2 207.8v7 M219.8 0v-4 M219.8 207.8v4 M231.3 0v-4 M231.3 207.8v4 M242.9 0v-7 M242.9 207.8v7 M254.5 0v-4 M254.5 207.8v4 M266 0v-4 M266 207.8v4 M277.6 0v-7 M277.6 207.8v7 M289.2 0v-4 M289.2 207.8v4 M300.7 0v-4 M300.7 207.8v4 M312.3 0v-7 M312.3 207.8v7 M323.9 0v-4 M323.9 207.8v4 M335.4 0v-4 M335.4 207.8v4 M347 0v-7 M347 207.8v7 M358.6 0v-4 M358.6 207.8v4 M370.1 0v-4 M370.1 207.8v4 M381.7 0v-7 M381.7 207.8v7 M393.3 0v-4 M393.3 207.8v4 M404.8 0v-4 M404.8 207.8v4 M416.4 0v-7 M416.4 207.8v7 M0 0h-7 M416.4 0h7 M0 11.5h-4 M416.4 11.5h4 M0 23.1h-4 M416.4 23.1h4 M0 34.6h-7 M416.4 34.6h7 M0 46.2h-4 M416.4 46.2h4 M0 57.7h-4 M416.4 57.7h4 M0 69.3h-7 M416.4 69.3h7 M0 80.8h-4 M416.4 80.8h4 M0 92.4h-4 M416.4 92.4h4 M0 103.9h-7 M416.4 103.9h7 M0 115.4h-4 M416.4 115.4h4 M0 127h-4 M416.4 127h4 M0 138.5h-7 M416.4 138.5h7 M0 150.1h-4 M416.4 150.1h4 M0 161.6h-4 M416.4 161.6h4 M0 173.2h-7 M416.4 173.2h7 M0 184.7h-4 M416.4 184.7h4 M0 196.3h-4 M416.4 196.3h4 M0 207.8h-7 M416.4 207.8h7 " stroke="#222" stroke-width="1" fill="none"/><rect x="0" y="0" width="416.4" height="207.8" fill="none" stroke="#222" stroke-width="1.1"/><g font-size="13.8" text-anchor="middle"><text x="0" y="236.8">180</text><text x="34.7" y="236.8">150W</text><text x="69.4" y="236.8">120W</text><text x="104.1" y="236.8">90W</text><text x="138.8" y="236.8">60W</text><text x="173.5" y="236.8">30W</text><text x="208.2" y="236.8">0</text><text x="242.9" y="236.8">30E</text><text x="277.6" y="236.8">60E</text><text x="312.3" y="236.8">90E</text><text x="347" y="236.8">120E</text><text x="381.7" y="236.8">150E</text><text x="416.4" y="236.8">180</text></g><g font-size="15.5" text-anchor="end"><text x="-17.5" y="5.6">90N</text><text x="-17.5" y="40.2">60N</text><text x="-17.5" y="74.9">30N</text><text x="-17.5" y="109.5">0</text><text x="-17.5" y="144.1">30S</text><text x="-17.5" y="178.8">60S</text><text x="-17.5" y="213.4">90S</text></g><g font-size="15.5"><text x="0.5" y="-10.3">AOD 550 nm</text><text x="208.2" y="-10.3" text-anchor="middle">CAM-STRATMAM-SON</text><text x="416.4" y="-10.3" text-anchor="end">0.13</text></g><rect x="5" y="166.5" width="33" height="35.5" fill="#fff"/><text x="12" y="190.8" font-size="22">d)</text><rect x="2" y="248" width="13.5" height="11.9" fill="#ffffff"/><rect x="15.3" y="248" width="13.5" height="11.9" fill="#dcdcff"/><rect x="28.6" y="248" width="13.5" height="11.9" fill="#bcbcff"/><rect x="41.9" y="248" width="13.5" height="11.9" fill="#9c9cff"/><rect x="55.1" y="248" width="13.5" height="11.9" fill="#7c7cff"/><rect x="68.4" y="248" width="13.5" height="11.9" fill="#5c5cff"/><rect x="81.7" y="248" width="13.5" height="11.9" fill="#3a3aff"/><rect x="95" y="248" width="13.5" height="11.9" fill="#1a1aff"/><rect x="108.3" y="248" width="13.5" height="11.9" fill="#0000f4"/><rect x="121.6" y="248" width="13.5" height="11.9" fill="#0020d0"/><rect x="134.9" y="248" width="13.5" height="11.9" fill="#0038b0"/><rect x="148.2" y="248" width="13.5" height="11.9" fill="#005090"/><rect x="161.4" y="248" width="13.5" height="11.9" fill="#006870"/><rect x="174.7" y="248" width="13.5" height="11.9" fill="#008050"/><rect x="188" y="248" width="13.5" height="11.9" fill="#009830"/><rect x="201.3" y="248" width="13.5" height="11.9" fill="#00ac18"/><rect x="214.6" y="248" width="13.5" height="11.9" fill="#28b41c"/><rect x="227.9" y="248" width="13.5" height="11.9" fill="#48c018"/><rect x="241.2" y="248" width="13.5" height="11.9" fill="#68c810"/><rect x="254.5" y="248" width="13.5" height="11.9" fill="#88d810"/><rect x="267.7" y="248" width="13.5" height="11.9" fill="#a8e010"/><rect x="281" y="248" width="13.5" height="11.9" fill="#c8f010"/><rect x="294.3" y="248" width="13.5" height="11.9" fill="#e8f810"/><rect x="307.6" y="248" width="13.5" height="11.9" fill="#fff000"/><rect x="320.9" y="248" width="13.5" height="11.9" fill="#ffc800"/><rect x="334.2" y="248" width="13.5" height="11.9" fill="#ffa400"/><rect x="347.5" y="248" width="13.5" height="11.9" fill="#ff8000"/><rect x="360.8" y="248" width="13.5" height="11.9" fill="#ff6000"/><rect x="374" y="248" width="13.5" height="11.9" fill="#ff4000"/><rect x="387.3" y="248" width="13.5" height="11.9" fill="#ff2000"/><rect x="400.6" y="248" width="13.5" height="11.9" fill="#ff0000"/><path d="M2 248v11.9M15.3 248v11.9M28.6 248v11.9M41.9 248v11.9M55.1 248v11.9M68.4 248v11.9M81.7 248v11.9M95 248v11.9M108.3 248v11.9M121.6 248v11.9M134.9 248v11.9M148.2 248v11.9M161.4 248v11.9M174.7 248v11.9M188 248v11.9M201.3 248v11.9M214.6 248v11.9M227.9 248v11.9M241.2 248v11.9M254.5 248v11.9M267.7 248v11.9M281 248v11.9M294.3 248v11.9M307.6 248v11.9M320.9 248v11.9M334.2 248v11.9M347.5 248v11.9M360.8 248v11.9M374 248v11.9M387.3 248v11.9M400.6 248v11.9M413.9 248v11.9" stroke="#111" stroke-width="0.8" fill="none"/><rect x="2" y="248" width="411.9" height="11.9" fill="none" stroke="#333" stroke-width="0.9"/><g font-size="16" text-anchor="middle"><text x="28.6" y="276.6">0.1</text><text x="68.4" y="276.6">0.25</text><text x="108.3" y="276.6">0.4</text><text x="148.2" y="276.6">0.55</text><text x="188" y="276.6">0.7</text><text x="227.9" y="276.6">0.85</text><text x="267.7" y="276.6">1</text><text x="307.6" y="276.6">1.15</text><text x="347.5" y="276.6">1.3</text><text x="387.3" y="276.6">1.45</text></g></g>
<g transform="translate(600.2,718.6)"><g clip-path="url(#clip)"><g filter="url(#cmE)"><rect x="-20" y="-20" width="456.4" height="247.8" fill="rgb(122,122,122)"/><path d="M196.6 20.8 254.5 20.8 323.9 18.5 381.7 20.8 417.6 23.1 417.6 53.1 381.7 55.4 364.3 50.8 347 48.5 312.3 48.5 277.6 48.5 242.9 50.8 214 53.1 196.6 48.5Z" fill="rgb(108,108,108)" filter="url(#b2_5)"/><path d="M98.3 23.1 127.2 25.4 141.1 36.9 136.5 46.2 118 46.2 101.8 39.3Z" fill="rgb(108,108,108)" filter="url(#b2_5)"/><path d="M136.5 32.3 161.9 34.6 185.1 30 196.6 34.6 179.3 46.2 150.4 48.5Z" fill="rgb(109,109,109)" filter="url(#b3_0)"/><rect x="-1.2" y="16.7" width="418.7" height="11" fill="rgb(104,104,104)" filter="url(#b2_0)"/><rect x="-1.2" y="16.7" width="70.6" height="9.8" fill="rgb(100,100,100)" filter="url(#b2_0)"/><rect x="277.6" y="16.7" width="140" height="8.7" fill="rgb(99,99,99)" filter="url(#b2_0)"/><path d="M115.7 173.2 131.9 161.6 150.4 152.4 173.5 148.9 208.2 150.1 277.6 152.4 347 154.7 417.6 157 417.6 177.8 115.7 177.8Z" fill="rgb(113,113,113)" filter="url(#b3_5)"/><path d="M-1.2 168.5 69.4 169.7 127.2 166.2 144.6 157 185.1 155.9 231.3 158.2 300.7 160.5 370.1 161.6 417.6 163.9 417.6 178.9 -1.2 178.9Z" fill="rgb(108,108,108)" filter="url(#b2_2)"/><rect x="-1.2" y="169.7" width="418.7" height="10.4" fill="rgb(96,96,96)" filter="url(#b1_8)"/><ellipse cx="32.4" cy="146.6" rx="11.6" ry="2.9" fill="rgb(108,108,108)" filter="url(#b2_0)"/><path d="M-1.2 94.1 34.7 94.1 69.4 94.1 92.5 92.4" fill="none" stroke="rgb(100,100,100)" stroke-width="6.4" stroke-linecap="round" stroke-linejoin="round" filter="url(#b2_0)"/><path d="M67.1 80.8 83.3 78.5 94.8 83.1 106.4 86.6 118 92.4 120.3 101.6 111 106.2 97.2 100.4 78.7 98.1 67.1 94.7Z" fill="rgb(97,97,97)" filter="url(#b3_0)"/><ellipse cx="116.8" cy="98.1" rx="4.6" ry="6.9" fill="rgb(83,83,83)" filter="url(#b2_0)"/><path d="M101.8 76.2 115.7 76.2 136.5 80.8 141.1 90 127.2 93.5 111 92.4 101.8 85.4Z" fill="rgb(104,104,104)" filter="url(#b2_5)"/><path d="M138.8 94.7 161.9 95.8 182.8 95.8 194.3 97" fill="none" stroke="rgb(102,102,102)" stroke-width="5.8" stroke-linecap="round" stroke-linejoin="round" filter="url(#b2_0)"/><path d="M347 73.9 370.1 76.2 393.3 80.8 417.6 85.4 417.6 101.6 393.3 103.9 370.1 101.6 351.6 97Z" fill="rgb(104,104,104)" filter="url(#b3_0)"/><path d="M349.3 87.7 370.1 90 393.3 93.5 417.6 95.2" fill="none" stroke="rgb(95,95,95)" stroke-width="5.8" stroke-linecap="round" stroke-linejoin="round" filter="url(#b2_0)"/><path d="M367.8 106.2 381.7 113.1 393.3 120.1 407.1 129.3" fill="none" stroke="rgb(100,100,100)" stroke-width="5.8" stroke-linecap="round" stroke-linejoin="round" filter="url(#b2_0)"/><ellipse cx="399" cy="77.3" rx="20.8" ry="6.9" fill="rgb(132,132,132)" filter="url(#b3_0)"/><ellipse cx="409.5" cy="103.9" rx="11.6" ry="4" fill="rgb(131,131,131)" filter="url(#b2_5)"/><path d="M-1.2 69.3 34.7 69.3 60.1 73.9 61.3 87.7 34.7 90 -1.2 88.9Z" fill="rgb(133,133,133)" filter="url(#b3_0)"/><ellipse cx="30.1" cy="81.4" rx="23.1" ry="6.9" fill="rgb(145,145,145)" filter="url(#b2_5)"/><ellipse cx="32.4" cy="83.1" rx="11.6" ry="4.2" fill="rgb(156,156,156)" filter="url(#b2_0)"/><path d="M3.5 97 46.3 98.1 92.5 100.4 115.7 106.2 118 124.7 98.3 131.6 57.8 129.3 17.3 122.4 3.5 110.8Z" fill="rgb(133,133,133)" filter="url(#b3_5)"/><path d="M11.6 100.4 52 100.4 92.5 105.1 106.4 113.1 92.5 123.5 52 123.5 13.9 114.3Z" fill="rgb(145,145,145)" filter="url(#b3_0)"/><ellipse cx="67.1" cy="113.1" rx="26.6" ry="6.3" transform="rotate(4 67.1 113.1)" fill="rgb(161,161,161)" filter="url(#b2_5)"/><ellipse cx="78.7" cy="114.3" rx="11.6" ry="3.7" transform="rotate(4 78.7 114.3)" fill="rgb(172,172,172)" filter="url(#b2_0)"/><path d="M155 99.3 173.5 100.4 194.3 113.1 203.6 124.7 196.6 132.8 173.5 131.6 152.7 127 157.3 113.1Z" fill="rgb(133,133,133)" filter="url(#b3_0)"/><ellipse cx="174.7" cy="114.3" rx="15" ry="8.1" transform="rotate(35 174.7 114.3)" fill="rgb(155,155,155)" filter="url(#b2_5)"/><ellipse cx="172.3" cy="112" rx="9.3" ry="6.3" transform="rotate(35 172.3 112)" fill="rgb(168,168,168)" filter="url(#b2_0)"/><ellipse cx="196.6" cy="125.8" rx="15" ry="4.6" transform="rotate(22 196.6 125.8)" fill="rgb(144,144,144)" filter="url(#b2_2)"/><path d="M136.5 77.3 161.9 71.6 187.4 67 194.3 78.5 182.8 88.9 156.1 88.9 138.8 85.4Z" fill="rgb(144,144,144)" filter="url(#b2_8)"/><ellipse cx="166.6" cy="82" rx="20.8" ry="4.8" transform="rotate(-10 166.6 82)" fill="rgb(167,167,167)" filter="url(#b2_0)"/><path d="M67.1 55.4 92.5 54.3 113.4 55.4 122.6 60 115.7 68.1 97.2 71.6 85.6 69.3 74 65.8Z" fill="rgb(132,132,132)" filter="url(#b2_5)"/><ellipse cx="104.1" cy="57.7" rx="9.3" ry="2.9" fill="rgb(143,143,143)" filter="url(#b2_0)"/><path d="M115.7 94.7 136.5 94.7 152.7 101.6 157.3 113.1 148.1 122.4 131.9 124.7 118 113.1Z" fill="rgb(108,108,108)" filter="url(#b3_0)"/><ellipse cx="141.1" cy="110.8" rx="9.3" ry="6.3" fill="rgb(104,104,104)" filter="url(#b2_5)"/><ellipse cx="144.6" cy="111.4" rx="4" ry="2.5" fill="rgb(79,79,79)" filter="url(#b1_5)"/><ellipse cx="163.1" cy="112" rx="4.6" ry="6.9" fill="rgb(146,146,146)" filter="url(#b2_0)"/><ellipse cx="156.1" cy="127" rx="6.9" ry="8.1" transform="rotate(-35 156.1 127)" fill="rgb(141,141,141)" filter="url(#b2_2)"/><ellipse cx="142.3" cy="127" rx="10.4" ry="10.4" fill="rgb(141,141,141)" filter="url(#b2_5)"/><ellipse cx="126.1" cy="147.8" rx="2.3" ry="5.8" fill="rgb(87,87,87)" filter="url(#b1_6)"/><path d="M187.4 67 208.2 61.2 225.5 63.5 247.5 67 254.5 76.2 254.5 92.4 240.6 97 217.5 93.5 198.9 92.4 187.4 85.4Z" fill="rgb(170,170,170)" filter="url(#b3_0)"/><path d="M201.3 79.7 217.5 78.5 233.6 70.4 247.5 69.3 253.3 80.8 249.8 94.7 233.6 97 208.2 94.7 198.9 90Z" fill="rgb(191,191,191)" filter="url(#b2_5)"/><path d="M225.5 88.9 234.8 72.7 246.4 70.4 251.6 80.8 248.7 94.7 233.6 95.8Z" fill="rgb(234,234,234)" filter="url(#b1_8)"/><ellipse cx="218.6" cy="65.8" rx="2.3" ry="1.8" fill="rgb(180,180,180)" filter="url(#b1_2)"/><ellipse cx="198.9" cy="76.2" rx="8.1" ry="5.8" fill="rgb(174,174,174)" filter="url(#b2_5)"/><ellipse cx="223.2" cy="86" rx="4.2" ry="2.3" fill="rgb(156,156,156)" filter="url(#b0_8)"/><ellipse cx="197.8" cy="94.7" rx="6.9" ry="4" transform="rotate(20 197.8 94.7)" fill="rgb(81,81,81)" filter="url(#b2_0)"/><path d="M201.3 99.3 219.8 97 242.9 99.3 247.5 108.5 245.2 120.1 231.3 123.5 217.5 123.5 210.5 113.1 198.9 106.2Z" fill="rgb(74,74,74)" filter="url(#b3_0)"/><ellipse cx="217.5" cy="115.4" rx="5.8" ry="6.9" fill="rgb(42,42,42)" filter="url(#b2_2)"/><ellipse cx="233.6" cy="109.7" rx="6.9" ry="5.2" fill="rgb(49,49,49)" filter="url(#b2_2)"/><ellipse cx="205.9" cy="106.2" rx="9.3" ry="4.6" transform="rotate(30 205.9 106.2)" fill="rgb(70,70,70)" filter="url(#b2_5)"/><path d="M222.1 120.1 233.6 122.4 242.9 129.3 242.9 138.5 233.6 143.2 226.7 138.5 222.1 129.3Z" fill="rgb(168,168,168)" filter="url(#b2_2)"/><ellipse cx="228.4" cy="131.6" rx="4" ry="6.9" transform="rotate(-10 228.4 131.6)" fill="rgb(214,214,214)" filter="url(#b1_6)"/><ellipse cx="249.8" cy="138.5" rx="6.9" ry="3.5" transform="rotate(20 249.8 138.5)" fill="rgb(134,134,134)" filter="url(#b2_0)"/><ellipse cx="254.5" cy="84.3" rx="2.9" ry="6.9" transform="rotate(-25 254.5 84.3)" fill="rgb(90,90,90)" filter="url(#b1_8)"/><ellipse cx="261.4" cy="94.7" rx="5.8" ry="5.8" fill="rgb(102,102,102)" filter="url(#b2_0)"/><ellipse cx="263.7" cy="76.2" rx="8.1" ry="6.9" fill="rgb(146,146,146)" filter="url(#b2_5)"/><path d="M260.2 50.8 275.3 47.3 290.3 49.6 292.6 60 285.7 70.4 273 72.7 262.6 65.8Z" fill="rgb(180,180,180)" filter="url(#b2_5)"/><ellipse cx="278.8" cy="58.9" rx="9.8" ry="6.9" transform="rotate(-10 278.8 58.9)" fill="rgb(214,214,214)" filter="url(#b2_0)"/><ellipse cx="279.9" cy="57.1" rx="5.8" ry="3.9" transform="rotate(-10 279.9 57.1)" fill="rgb(232,232,232)" filter="url(#b1_3)"/><ellipse cx="277.6" cy="51.7" rx="1.4" ry="1.2" fill="rgb(46,46,46)" filter="url(#b0_8)"/><path d="M256.8 87.7 266 85.4 275.3 76.2 284.5 72.7 291.5 62.3 300.7 65.8 312.3 71.6 321.6 76.2 321.6 92.4 312.3 101.6 296.1 103.9 277.6 101.6 266 94.7Z" fill="rgb(86,86,86)" filter="url(#b3_0)"/><path d="M282.2 76.2 289.2 65.8 298.4 68.1 310 73.9 314.6 78.5 311.1 90 300.7 95.8 290.3 91.2 284.5 83.1Z" fill="rgb(67,67,67)" filter="url(#b2_5)"/><path d="M291.5 68.1 298.4 71.6 305.4 74.5 312.3 77.3" fill="none" stroke="rgb(42,42,42)" stroke-width="3.5" stroke-linecap="round" stroke-linejoin="round" filter="url(#b1_6)"/><ellipse cx="298.4" cy="84.3" rx="3.5" ry="5.8" fill="rgb(81,81,81)" filter="url(#b1_8)"/><ellipse cx="318.1" cy="57.7" rx="18.5" ry="3.5" transform="rotate(-3 318.1 57.7)" fill="rgb(174,174,174)" filter="url(#b2_0)"/><ellipse cx="312.3" cy="57.7" rx="10.4" ry="2.1" transform="rotate(-3 312.3 57.7)" fill="rgb(220,220,220)" filter="url(#b1_3)"/><ellipse cx="329.6" cy="56" rx="3.5" ry="1.2" fill="rgb(185,185,185)" filter="url(#b1_0)"/><ellipse cx="312.3" cy="67" rx="9.3" ry="2.9" fill="rgb(121,121,121)" filter="url(#b2_0)"/><path d="M325 60 337.7 52 353.9 48.5 357.4 57.7 350.5 71.6 343.5 79.7 332 82 325 72.7Z" fill="rgb(76,76,76)" filter="url(#b3_0)"/><path d="M330.8 62.3 340.1 56.6 349.3 56.6 348.2 68.1 341.2 76.2 334.3 76.2 329.6 69.3Z" fill="rgb(42,42,42)" filter="url(#b2_2)"/><ellipse cx="352.8" cy="52" rx="4.6" ry="3.5" transform="rotate(-40 352.8 52)" fill="rgb(58,58,58)" filter="url(#b1_8)"/><path d="M314.6 76.2 333.1 78.5 349.3 80.8 358.6 94.7 363.2 108.5 351.6 115.4 330.8 115.4 319.2 106.2 314.6 94.7Z" fill="rgb(86,86,86)" filter="url(#b3_0)"/><ellipse cx="326.2" cy="103.9" rx="4.6" ry="4.6" transform="rotate(40 326.2 103.9)" fill="rgb(65,65,65)" filter="url(#b2_0)"/><ellipse cx="338.9" cy="105.1" rx="5.2" ry="3.5" fill="rgb(65,65,65)" filter="url(#b2_0)"/><ellipse cx="328.5" cy="87.7" rx="5.8" ry="5.8" fill="rgb(70,70,70)" filter="url(#b2_2)"/><ellipse cx="348.2" cy="87.7" rx="2.9" ry="5.8" fill="rgb(63,63,63)" filter="url(#b1_8)"/><path d="M261.4 112 289.2 110.8 314.6 113.1 328.5 117.8 323.9 127 298.4 130.5 271.8 129.3 261.4 120.1Z" fill="rgb(133,133,133)" filter="url(#b3_0)"/><ellipse cx="292.6" cy="120.1" rx="22" ry="5.2" transform="rotate(2 292.6 120.1)" fill="rgb(145,145,145)" filter="url(#b2_3)"/><ellipse cx="291.5" cy="120.6" rx="15" ry="3.1" transform="rotate(2 291.5 120.6)" fill="rgb(156,156,156)" filter="url(#b1_8)"/><path d="M340.1 129.3 349.3 124.7 358.6 121.2 367.8 123.5 373.6 121.2 378.2 127 384 133.9 384 140.8 379.4 146.6 371.3 146.6 364.3 142 352.8 141.4 342.4 142.6Z" fill="rgb(145,145,145)" filter="url(#b2_0)"/><ellipse cx="358.6" cy="129.3" rx="5.8" ry="3.5" fill="rgb(162,162,162)" filter="url(#b1_8)"/><ellipse cx="370.1" cy="135.1" rx="9.3" ry="5.8" fill="rgb(156,156,156)" filter="url(#b2_0)"/><ellipse cx="360.9" cy="116.6" rx="13.9" ry="2.9" fill="rgb(100,100,100)" filter="url(#b2_0)"/><ellipse cx="229" cy="62.3" rx="16.2" ry="2.9" fill="rgb(126,126,126)" filter="url(#b2_0)"/></g><path d="M-1.2 181.2 34.7 183 69.4 183.6 104.1 181.2 127.2 178.9 150.4 177.2 185.1 175.5 208.2 175.5 242.9 176.1 266 176.6 277.6 180.1 323.9 180.1 370.1 180.1 381.7 178.4 417.6 180.1 417.6 213.6 -1.2 213.6Z" fill="#fff" filter="url(#rough)"/><path d="M-1.2 17 417.6 17 417.6 -5.8 -1.2 -5.8Z" fill="#fff" filter="url(#rough)"/><use href="#grn" fill="#d3d3d3"/><use href="#ant" fill="#d3d3d3"/><path d="M65.9 27.1 70.6 26.6 71.7 27.9 68.2 28.6Z" fill="#d3d3d3"/><path d="M73.4 33.1 77.5 31.6 80.4 31.9 76.9 33.1Z" fill="#d3d3d3"/><path d="M89.1 36.4 91.4 35.8 92 37.2 89.6 37.5Z" fill="#d3d3d3"/><path d="M120.3 38.7 124.9 38.1 126.7 41 122.6 41.6Z" fill="#d3d3d3"/><path d="M93.7 30 97.2 29.7 96.6 30.9Z" fill="#d3d3d3"/><use href="#coast"/><use href="#bord"/><use href="#mald"/><use href="#thick"/><use href="#thin2"/><use href="#grn" fill="none" stroke="#000" stroke-width="1.1"/><use href="#ant" fill="none" stroke="#000" stroke-width="1.1"/></g><path d="M0 0v-7 M0 207.8v7 M11.6 0v-4 M11.6 207.8v4 M23.1 0v-4 M23.1 207.8v4 M34.7 0v-7 M34.7 207.8v7 M46.3 0v-4 M46.3 207.8v4 M57.8 0v-4 M57.8 207.8v4 M69.4 0v-7 M69.4 207.8v7 M81 0v-4 M81 207.8v4 M92.5 0v-4 M92.5 207.8v4 M104.1 0v-7 M104.1 207.8v7 M115.7 0v-4 M115.7 207.8v4 M127.2 0v-4 M127.2 207.8v4 M138.8 0v-7 M138.8 207.8v7 M150.4 0v-4 M150.4 207.8v4 M161.9 0v-4 M161.9 207.8v4 M173.5 0v-7 M173.5 207.8v7 M185.1 0v-4 M185.1 207.8v4 M196.6 0v-4 M196.6 207.8v4 M208.2 0v-7 M208.2 207.8v7 M219.8 0v-4 M219.8 207.8v4 M231.3 0v-4 M231.3 207.8v4 M242.9 0v-7 M242.9 207.8v7 M254.5 0v-4 M254.5 207.8v4 M266 0v-4 M266 207.8v4 M277.6 0v-7 M277.6 207.8v7 M289.2 0v-4 M289.2 207.8v4 M300.7 0v-4 M300.7 207.8v4 M312.3 0v-7 M312.3 207.8v7 M323.9 0v-4 M323.9 207.8v4 M335.4 0v-4 M335.4 207.8v4 M347 0v-7 M347 207.8v7 M358.6 0v-4 M358.6 207.8v4 M370.1 0v-4 M370.1 207.8v4 M381.7 0v-7 M381.7 207.8v7 M393.3 0v-4 M393.3 207.8v4 M404.8 0v-4 M404.8 207.8v4 M416.4 0v-7 M416.4 207.8v7 M0 0h-7 M416.4 0h7 M0 11.5h-4 M416.4 11.5h4 M0 23.1h-4 M416.4 23.1h4 M0 34.6h-7 M416.4 34.6h7 M0 46.2h-4 M416.4 46.2h4 M0 57.7h-4 M416.4 57.7h4 M0 69.3h-7 M416.4 69.3h7 M0 80.8h-4 M416.4 80.8h4 M0 92.4h-4 M416.4 92.4h4 M0 103.9h-7 M416.4 103.9h7 M0 115.4h-4 M416.4 115.4h4 M0 127h-4 M416.4 127h4 M0 138.5h-7 M416.4 138.5h7 M0 150.1h-4 M416.4 150.1h4 M0 161.6h-4 M416.4 161.6h4 M0 173.2h-7 M416.4 173.2h7 M0 184.7h-4 M416.4 184.7h4 M0 196.3h-4 M416.4 196.3h4 M0 207.8h-7 M416.4 207.8h7 " stroke="#222" stroke-width="1" fill="none"/><rect x="0" y="0" width="416.4" height="207.8" fill="none" stroke="#222" stroke-width="1.1"/><g font-size="13.8" text-anchor="middle"><text x="0" y="236.8">180</text><text x="34.7" y="236.8">150W</text><text x="69.4" y="236.8">120W</text><text x="104.1" y="236.8">90W</text><text x="138.8" y="236.8">60W</text><text x="173.5" y="236.8">30W</text><text x="208.2" y="236.8">0</text><text x="242.9" y="236.8">30E</text><text x="277.6" y="236.8">60E</text><text x="312.3" y="236.8">90E</text><text x="347" y="236.8">120E</text><text x="381.7" y="236.8">150E</text><text x="416.4" y="236.8">180</text></g><g font-size="15.5" text-anchor="end"><text x="-17.5" y="5.6">90N</text><text x="-17.5" y="40.2">60N</text><text x="-17.5" y="74.9">30N</text><text x="-17.5" y="109.5">0</text><text x="-17.5" y="144.1">30S</text><text x="-17.5" y="178.8">60S</text><text x="-17.5" y="213.4">90S</text></g><g font-size="15.5"><text x="208.2" y="-10.3" text-anchor="middle">Difference</text></g><rect x="5" y="166.5" width="33" height="35.5" fill="#fff"/><text x="12" y="190.8" font-size="22">e)</text><rect x="2" y="248" width="18.9" height="11.9" fill="#00008c"/><rect x="20.7" y="248" width="18.9" height="11.9" fill="#0000a4"/><rect x="39.4" y="248" width="18.9" height="11.9" fill="#0000b8"/><rect x="58.2" y="248" width="18.9" height="11.9" fill="#0000cc"/><rect x="76.9" y="248" width="18.9" height="11.9" fill="#0000e4"/><rect x="95.6" y="248" width="18.9" height="11.9" fill="#0000ff"/><rect x="114.3" y="248" width="18.9" height="11.9" fill="#3030ff"/><rect x="133.1" y="248" width="18.9" height="11.9" fill="#5858fa"/><rect x="151.8" y="248" width="18.9" height="11.9" fill="#8888f8"/><rect x="170.5" y="248" width="18.9" height="11.9" fill="#b8b8f8"/><rect x="189.2" y="248" width="18.9" height="11.9" fill="#e8e8ff"/><rect x="207.9" y="248" width="18.9" height="11.9" fill="#ffe8e8"/><rect x="226.7" y="248" width="18.9" height="11.9" fill="#ffb8b8"/><rect x="245.4" y="248" width="18.9" height="11.9" fill="#ff8888"/><rect x="264.1" y="248" width="18.9" height="11.9" fill="#ff5858"/><rect x="282.8" y="248" width="18.9" height="11.9" fill="#ff3030"/><rect x="301.6" y="248" width="18.9" height="11.9" fill="#ff0000"/><rect x="320.3" y="248" width="18.9" height="11.9" fill="#e00000"/><rect x="339" y="248" width="18.9" height="11.9" fill="#c80000"/><rect x="357.7" y="248" width="18.9" height="11.9" fill="#b40000"/><rect x="376.5" y="248" width="18.9" height="11.9" fill="#a00000"/><rect x="395.2" y="248" width="18.9" height="11.9" fill="#880000"/><path d="M2 248v11.9M20.7 248v11.9M39.4 248v11.9M58.2 248v11.9M76.9 248v11.9M95.6 248v11.9M114.3 248v11.9M133.1 248v11.9M151.8 248v11.9M170.5 248v11.9M189.2 248v11.9M207.9 248v11.9M226.7 248v11.9M245.4 248v11.9M264.1 248v11.9M282.8 248v11.9M301.6 248v11.9M320.3 248v11.9M339 248v11.9M357.7 248v11.9M376.5 248v11.9M395.2 248v11.9M413.9 248v11.9" stroke="#111" stroke-width="0.8" fill="none"/><rect x="2" y="248" width="411.9" height="11.9" fill="none" stroke="#333" stroke-width="0.9"/><g font-size="16" text-anchor="middle"><text x="20.7" y="276.6">-0.5</text><text x="58.2" y="276.6">-0.4</text><text x="95.6" y="276.6">-0.3</text><text x="133.1" y="276.6">-0.2</text><text x="170.5" y="276.6">-0.1</text><text x="207.9" y="276.6">0</text><text x="245.4" y="276.6">0.1</text><text x="282.8" y="276.6">0.2</text><text x="320.3" y="276.6">0.3</text><text x="357.7" y="276.6">0.4</text><text x="395.2" y="276.6">0.5</text></g></g>
</svg>
</body></html>
